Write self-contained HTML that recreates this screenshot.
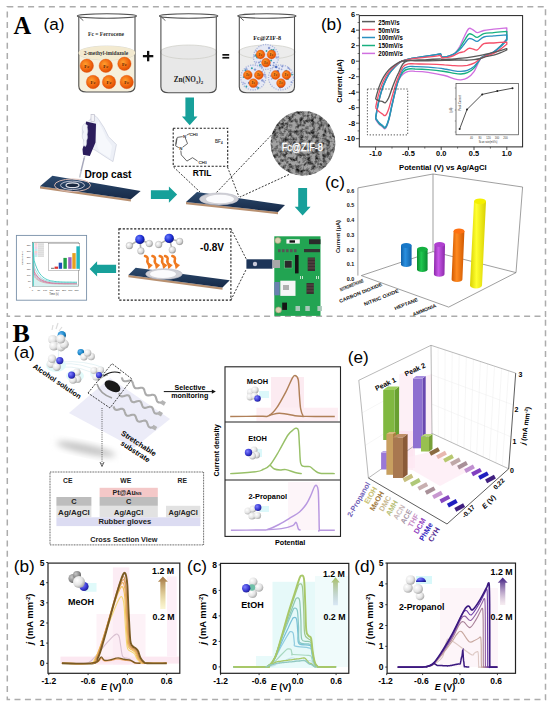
<!DOCTYPE html>
<html><head><meta charset="utf-8"><style>
html,body{margin:0;padding:0;background:#fff;width:550px;height:706px;overflow:hidden}
svg{display:block}

</style></head><body>
<svg width="550" height="706" viewBox="0 0 550 706" font-family="Liberation Sans">
<defs>
<radialGradient id="gOrange" cx="0.4" cy="0.38" r="0.7"><stop offset="0" stop-color="#ffa030"/><stop offset="0.55" stop-color="#f26a10"/><stop offset="1" stop-color="#d84400"/></radialGradient>
<linearGradient id="gElec" x1="0" y1="0" x2="0" y2="1"><stop offset="0" stop-color="#2c4a6e"/><stop offset="1" stop-color="#172a48"/></linearGradient>
<radialGradient id="gWhite" cx="0.35" cy="0.35" r="0.75"><stop offset="0" stop-color="#ffffff"/><stop offset="0.6" stop-color="#d8d8d8"/><stop offset="1" stop-color="#8a8a8a"/></radialGradient>
<radialGradient id="gBlue" cx="0.35" cy="0.35" r="0.75"><stop offset="0" stop-color="#6a7cff"/><stop offset="0.6" stop-color="#1a2ad0"/><stop offset="1" stop-color="#0a1070"/></radialGradient>
<radialGradient id="gDrop" cx="0.5" cy="0.5" r="0.5"><stop offset="0" stop-color="#ffffff"/><stop offset="0.7" stop-color="#f0f0f0"/><stop offset="1" stop-color="#b8b8c0"/></radialGradient>
<filter id="fNoise" x="0" y="0" width="1" height="1">
<feTurbulence type="fractalNoise" baseFrequency="0.26" numOctaves="3" seed="4" result="n"/>
<feColorMatrix in="n" type="matrix" values="0 0 0 0 0  0 0 0 0 0  0 0 0 0 0  1.9 0 0 0 -0.72" result="a"/>
<feComposite in="a" in2="SourceGraphic" operator="in"/>
</filter>
<clipPath id="cSem"><circle cx="303" cy="143.3" r="32.4"/></clipPath>
</defs>

<rect x="7.3" y="6.7" width="538.2" height="309.6" stroke="#acacac" stroke-width="1.5" stroke-dasharray="6 4.4" fill="none"/>
<path d="M7.3 322 L7.3 699.6 L545.5 699.6 L545.5 316.3" stroke="#acacac" stroke-width="1.5" stroke-dasharray="6 4.4" fill="none"/>
<text x="13.4" y="34" font-family="Liberation Serif" font-weight="bold" font-size="24.5">A</text>
<text x="12.6" y="342.4" font-family="Liberation Serif" font-weight="bold" font-size="26">B</text>
<text x="43.5" y="29.7" font-family="Liberation Sans" font-size="17.2">(a)</text>
<path d="M78.3 53 L78.3 87 Q78.3 92 85.3 92 L128.5 92 Q135.5 92 135.5 87 Z" fill="#f6f0dc"/>
<rect x="78.3" y="53" width="57.2" height="34" fill="#f6f0dc"/>
<ellipse cx="106.9" cy="53" rx="28.6" ry="7" fill="#f6f0dc" stroke="#c8c8c0" stroke-width="0.6"/>
<path d="M78.8 16.5 L78.8 86 Q78.8 92 86.3 92 L127.5 92 Q135 92 135 86 L135 16.5" fill="none" stroke="#505050" stroke-width="1.1"/>
<ellipse cx="106.9" cy="16" rx="29.6" ry="2.2" fill="none" stroke="#505050" stroke-width="1.1"/>
<path d="M79.3 16.5 q2 3 4 4" fill="none" stroke="#505050" stroke-width="0.9"/>
<ellipse cx="106.9" cy="53" rx="28.5" ry="7" fill="#f3ead0"/>
<text x="106" y="35.5" font-family="Liberation Serif" font-weight="bold" font-size="5.6" fill="#333" text-anchor="middle">Fc = Ferrocene</text>
<text x="106" y="55" font-family="Liberation Serif" font-weight="bold" font-size="5.4" fill="#333" text-anchor="middle">2-methyl-imidazole</text>
<circle cx="86.8" cy="65.8" r="6.7" fill="url(#gOrange)" stroke="#e05010" stroke-width="0.4"/><text x="86.8" y="67.8" font-family="Liberation Serif" font-weight="bold" font-size="4.7" fill="#5a1a00" text-anchor="middle">Fc</text>
<circle cx="105.8" cy="65.8" r="6.7" fill="url(#gOrange)" stroke="#e05010" stroke-width="0.4"/><text x="105.8" y="67.8" font-family="Liberation Serif" font-weight="bold" font-size="4.7" fill="#5a1a00" text-anchor="middle">Fc</text>
<circle cx="124.4" cy="63.8" r="6.7" fill="url(#gOrange)" stroke="#e05010" stroke-width="0.4"/><text x="124.4" y="65.8" font-family="Liberation Serif" font-weight="bold" font-size="4.7" fill="#5a1a00" text-anchor="middle">Fc</text>
<circle cx="93" cy="82" r="6.7" fill="url(#gOrange)" stroke="#e05010" stroke-width="0.4"/><text x="93" y="84" font-family="Liberation Serif" font-weight="bold" font-size="4.7" fill="#5a1a00" text-anchor="middle">Fc</text>
<circle cx="109" cy="82" r="6.7" fill="url(#gOrange)" stroke="#e05010" stroke-width="0.4"/><text x="109" y="84" font-family="Liberation Serif" font-weight="bold" font-size="4.7" fill="#5a1a00" text-anchor="middle">Fc</text>
<circle cx="126.7" cy="82" r="6.7" fill="url(#gOrange)" stroke="#e05010" stroke-width="0.4"/><text x="126.7" y="84" font-family="Liberation Serif" font-weight="bold" font-size="4.7" fill="#5a1a00" text-anchor="middle">Fc</text>
<rect x="142.9" y="55" width="10.4" height="2.3" fill="#111"/><rect x="147" y="50.9" width="2.3" height="10.4" fill="#111"/>
<path d="M160.4 52 L160.4 87.7 Q160.4 92.7 167.4 92.7 L209.8 92.7 Q216.8 92.7 216.8 87.7 Z" fill="#e8e8e8"/>
<rect x="160.4" y="52" width="56.4" height="35.7" fill="#e8e8e8"/>
<ellipse cx="188.6" cy="52" rx="28.2" ry="7" fill="#e8e8e8" stroke="#c8c8c0" stroke-width="0.6"/>
<path d="M160.9 16.5 L160.9 86.7 Q160.9 92.7 168.4 92.7 L208.8 92.7 Q216.3 92.7 216.3 86.7 L216.3 16.5" fill="none" stroke="#505050" stroke-width="1.1"/>
<ellipse cx="188.6" cy="16" rx="29.2" ry="2.2" fill="none" stroke="#505050" stroke-width="1.1"/>
<path d="M161.4 16.5 q2 3 4 4" fill="none" stroke="#505050" stroke-width="0.9"/>
<text x="188.5" y="82" font-family="Liberation Serif" font-weight="bold" font-size="7.2" fill="#222" text-anchor="middle">Zn(NO<tspan font-size="5" dy="1.5">3</tspan><tspan dy="-1.5">)</tspan><tspan font-size="5" dy="1.5">2</tspan></text>
<rect x="222.4" y="54" width="6.8" height="1.7" fill="#111"/><rect x="222.4" y="56.9" width="6.8" height="1.7" fill="#111"/>
<path d="M238.8 52 L238.8 87.7 Q238.8 92.7 245.8 92.7 L288 92.7 Q295 92.7 295 87.7 Z" fill="#ececec"/>
<rect x="238.8" y="52" width="56.2" height="35.7" fill="#ececec"/>
<ellipse cx="266.9" cy="52" rx="28.1" ry="7" fill="#ececec" stroke="#c8c8c0" stroke-width="0.6"/>
<path d="M239.3 16.5 L239.3 86.7 Q239.3 92.7 246.8 92.7 L287 92.7 Q294.5 92.7 294.5 86.7 L294.5 16.5" fill="none" stroke="#505050" stroke-width="1.1"/>
<ellipse cx="266.9" cy="16" rx="29.1" ry="2.2" fill="none" stroke="#505050" stroke-width="1.1"/>
<path d="M239.8 16.5 q2 3 4 4" fill="none" stroke="#505050" stroke-width="0.9"/>
<text x="267.2" y="40" font-family="Liberation Serif" font-weight="bold" font-size="6.2" fill="#222" text-anchor="middle">Fc@ZIF-8</text>
<circle cx="266" cy="57" r="12.5" fill="#e6e9f5" stroke="#a8b4dc" stroke-width="1.3" stroke-dasharray="1.2 1.2"/>
<circle cx="273.4" cy="65.3" r="0.9" fill="#8a9ad0"/>
<circle cx="257.3" cy="57.3" r="1.2" fill="#30a0a8"/>
<circle cx="271.1" cy="60.4" r="1" fill="#30a0a8"/>
<circle cx="266.5" cy="51" r="0.9" fill="#30a0a8"/>
<circle cx="269.1" cy="48" r="1.2" fill="#8a9ad0"/>
<circle cx="272" cy="58.2" r="0.7" fill="#9aa8d8"/>
<circle cx="273.4" cy="50.1" r="1.1" fill="#30a0a8"/>
<circle cx="255.6" cy="55.2" r="1" fill="#30a0a8"/>
<circle cx="260.3" cy="65.3" r="1.3" fill="#30a0a8"/>
<circle cx="273.6" cy="53.2" r="1.3" fill="#9aa8d8"/>
<circle cx="273.9" cy="62.7" r="0.8" fill="#5070c0"/>
<circle cx="260.9" cy="66" r="1.3" fill="#9aa8d8"/>
<circle cx="256.3" cy="62.2" r="0.9" fill="#b0b8e0"/>
<circle cx="256.4" cy="51.1" r="0.9" fill="#9aa8d8"/>
<circle cx="271.4" cy="49.9" r="0.9" fill="#30a0a8"/>
<circle cx="270.3" cy="65.2" r="0.8" fill="#5070c0"/>
<circle cx="262.6" cy="51.3" r="1" fill="#b0b8e0"/>
<circle cx="259" cy="62.6" r="1" fill="#8a9ad0"/>
<circle cx="262" cy="67.3" r="1.1" fill="#9aa8d8"/>
<circle cx="260.5" cy="61.4" r="0.8" fill="#9aa8d8"/>
<circle cx="273.2" cy="57.6" r="0.8" fill="#9aa8d8"/>
<circle cx="254.3" cy="56" r="0.9" fill="#9aa8d8"/>
<circle cx="274.4" cy="51.7" r="1.3" fill="#9aa8d8"/>
<circle cx="276.7" cy="57.4" r="1.2" fill="#9aa8d8"/>
<circle cx="256.7" cy="55.9" r="1.3" fill="#30a0a8"/>
<circle cx="257.9" cy="58" r="0.8" fill="#9aa8d8"/>
<circle cx="260.5" cy="54.5" r="4.4" fill="url(#gOrange)" stroke="#e05010" stroke-width="0.4"/><text x="260.5" y="55.8" font-family="Liberation Serif" font-weight="bold" font-size="3.1" fill="#5a1a00" text-anchor="middle">Fc</text>
<circle cx="271.5" cy="54.5" r="4.4" fill="url(#gOrange)" stroke="#e05010" stroke-width="0.4"/><text x="271.5" y="55.8" font-family="Liberation Serif" font-weight="bold" font-size="3.1" fill="#5a1a00" text-anchor="middle">Fc</text>
<circle cx="266" cy="62.6" r="4.4" fill="url(#gOrange)" stroke="#e05010" stroke-width="0.4"/><text x="266" y="63.9" font-family="Liberation Serif" font-weight="bold" font-size="3.1" fill="#5a1a00" text-anchor="middle">Fc</text>
<circle cx="253.3" cy="77.5" r="12.5" fill="#e6e9f5" stroke="#a8b4dc" stroke-width="1.3" stroke-dasharray="1.2 1.2"/>
<circle cx="264.5" cy="74.3" r="0.8" fill="#8a9ad0"/>
<circle cx="248.8" cy="82.9" r="0.9" fill="#5070c0"/>
<circle cx="254.8" cy="83.5" r="1.3" fill="#b0b8e0"/>
<circle cx="246.3" cy="69.2" r="1.3" fill="#9aa8d8"/>
<circle cx="245" cy="75.1" r="1.2" fill="#5070c0"/>
<circle cx="258.9" cy="71.6" r="1.2" fill="#5070c0"/>
<circle cx="243.3" cy="82.7" r="1" fill="#b0b8e0"/>
<circle cx="253.8" cy="83.6" r="0.8" fill="#5070c0"/>
<circle cx="245.2" cy="77" r="1.1" fill="#9aa8d8"/>
<circle cx="258" cy="87.8" r="1.1" fill="#30a0a8"/>
<circle cx="262.1" cy="71.6" r="0.9" fill="#9aa8d8"/>
<circle cx="265" cy="76.1" r="1.3" fill="#b0b8e0"/>
<circle cx="244.9" cy="83.6" r="0.8" fill="#9aa8d8"/>
<circle cx="251.7" cy="86.3" r="1.2" fill="#9aa8d8"/>
<circle cx="246.4" cy="86.5" r="0.9" fill="#30a0a8"/>
<circle cx="251.9" cy="68.3" r="1" fill="#30a0a8"/>
<circle cx="254.7" cy="85.3" r="1.2" fill="#b0b8e0"/>
<circle cx="245.4" cy="70.4" r="0.9" fill="#30a0a8"/>
<circle cx="263.2" cy="74.8" r="1" fill="#9aa8d8"/>
<circle cx="243.6" cy="77.1" r="0.9" fill="#30a0a8"/>
<circle cx="255.7" cy="86.3" r="1.2" fill="#9aa8d8"/>
<circle cx="255" cy="69.6" r="1.2" fill="#8a9ad0"/>
<circle cx="257.1" cy="87.3" r="1" fill="#8a9ad0"/>
<circle cx="262.4" cy="80.4" r="1.2" fill="#8a9ad0"/>
<circle cx="258.3" cy="83.2" r="1.3" fill="#b0b8e0"/>
<circle cx="263.9" cy="81.7" r="0.7" fill="#8a9ad0"/>
<circle cx="247.8" cy="75" r="4.4" fill="url(#gOrange)" stroke="#e05010" stroke-width="0.4"/><text x="247.8" y="76.3" font-family="Liberation Serif" font-weight="bold" font-size="3.1" fill="#5a1a00" text-anchor="middle">Fc</text>
<circle cx="258.8" cy="75" r="4.4" fill="url(#gOrange)" stroke="#e05010" stroke-width="0.4"/><text x="258.8" y="76.3" font-family="Liberation Serif" font-weight="bold" font-size="3.1" fill="#5a1a00" text-anchor="middle">Fc</text>
<circle cx="253.3" cy="83.1" r="4.4" fill="url(#gOrange)" stroke="#e05010" stroke-width="0.4"/><text x="253.3" y="84.4" font-family="Liberation Serif" font-weight="bold" font-size="3.1" fill="#5a1a00" text-anchor="middle">Fc</text>
<circle cx="281" cy="77.5" r="12.5" fill="#e6e9f5" stroke="#a8b4dc" stroke-width="1.3" stroke-dasharray="1.2 1.2"/>
<circle cx="281.7" cy="86.7" r="1.2" fill="#5070c0"/>
<circle cx="271.6" cy="79" r="0.7" fill="#9aa8d8"/>
<circle cx="284.9" cy="71.1" r="0.8" fill="#b0b8e0"/>
<circle cx="279.1" cy="68.5" r="1" fill="#9aa8d8"/>
<circle cx="276.6" cy="72.2" r="1.2" fill="#b0b8e0"/>
<circle cx="270.7" cy="76" r="0.8" fill="#8a9ad0"/>
<circle cx="287" cy="75.8" r="1.2" fill="#8a9ad0"/>
<circle cx="279.8" cy="87" r="1.1" fill="#30a0a8"/>
<circle cx="288.4" cy="73.5" r="1" fill="#9aa8d8"/>
<circle cx="291.4" cy="73.1" r="0.7" fill="#8a9ad0"/>
<circle cx="273.5" cy="77.7" r="1.2" fill="#30a0a8"/>
<circle cx="286.2" cy="70.8" r="1" fill="#30a0a8"/>
<circle cx="272.7" cy="75.7" r="1.2" fill="#b0b8e0"/>
<circle cx="276.2" cy="67" r="1.3" fill="#5070c0"/>
<circle cx="277.7" cy="71.4" r="1.3" fill="#5070c0"/>
<circle cx="288.8" cy="72.2" r="1.1" fill="#b0b8e0"/>
<circle cx="288.6" cy="76.9" r="0.7" fill="#8a9ad0"/>
<circle cx="288.3" cy="68" r="0.9" fill="#8a9ad0"/>
<circle cx="291.4" cy="82.1" r="0.9" fill="#8a9ad0"/>
<circle cx="282.3" cy="66.3" r="1.1" fill="#8a9ad0"/>
<circle cx="281.6" cy="69.3" r="0.9" fill="#9aa8d8"/>
<circle cx="289.7" cy="69.4" r="0.8" fill="#9aa8d8"/>
<circle cx="286.9" cy="78.9" r="1.1" fill="#8a9ad0"/>
<circle cx="288" cy="78.9" r="0.9" fill="#30a0a8"/>
<circle cx="280.1" cy="87.6" r="0.9" fill="#5070c0"/>
<circle cx="292" cy="74.6" r="0.9" fill="#30a0a8"/>
<circle cx="275.5" cy="75" r="4.4" fill="url(#gOrange)" stroke="#e05010" stroke-width="0.4"/><text x="275.5" y="76.3" font-family="Liberation Serif" font-weight="bold" font-size="3.1" fill="#5a1a00" text-anchor="middle">Fc</text>
<circle cx="286.5" cy="75" r="4.4" fill="url(#gOrange)" stroke="#e05010" stroke-width="0.4"/><text x="286.5" y="76.3" font-family="Liberation Serif" font-weight="bold" font-size="3.1" fill="#5a1a00" text-anchor="middle">Fc</text>
<circle cx="281" cy="83.1" r="4.4" fill="url(#gOrange)" stroke="#e05010" stroke-width="0.4"/><text x="281" y="84.4" font-family="Liberation Serif" font-weight="bold" font-size="3.1" fill="#5a1a00" text-anchor="middle">Fc</text>
<polygon points="185.4,97.6 194,97.6 194,116.5 197.5,116.5 189.7,125.2 181.9,116.5 185.4,116.5" fill="#17a09a"/>
<polygon points="150.9,190.2 168.9,190.2 168.9,186.4 177.1,194.6 168.9,202.8 168.9,199 150.9,199" fill="#17a09a"/>
<polygon points="298.2,187.9 307.1,187.9 307.1,206.8 310.6,206.8 302.6,215.4 294.7,206.8 298.2,206.8" fill="#17a09a"/>
<polygon points="89.6,268.9 97.1,261.2 97.1,264.8 116.1,264.8 116.1,273 97.1,273 97.1,276.6" fill="#17a09a"/>
<polygon points="40,186.2 130.9,199.3 130.9,201.5 40,188.4" fill="#b89070"/>
<polygon points="52.4,175.7 140.7,191.1 130.9,199.3 40,186.2" fill="url(#gElec)"/>
<ellipse cx="72.5" cy="185.3" rx="18" ry="6.3" fill="none" stroke="#d8b8b0" stroke-width="1"/>
<ellipse cx="72.5" cy="185.3" rx="12" ry="4.2" fill="none" stroke="#c8c8d8" stroke-width="0.9"/>
<ellipse cx="72.5" cy="185.3" rx="6.5" ry="2.4" fill="#1a2840" stroke="#e0e0e8" stroke-width="1.2"/>
<path d="M92 114.5 C95 115 97 117 99 120 L104 127.6 L108.5 136.7 L116.4 144.6 L113 161.6 L107.4 158.2 L95 150 C90 148 86 146 84 142 C82 136 82 130 83 127 C85 124 88 121 91 119 Z" fill="#edf0f7" stroke="#c4c8d6" stroke-width="0.6"/>
<path d="M98 121 C101 126 104 132 106 138 L112 146 L110 158 L100 152 C97 148 96 140 96 132 Z" fill="#f6f8fc"/>
<line x1="84.7" y1="156" x2="79.6" y2="177.5" stroke="#c4c6d0" stroke-width="1.5"/>
<line x1="84.2" y1="158" x2="81" y2="171" stroke="#8a8aa8" stroke-width="0.6"/>
<path d="M86 121.4 L96 123.7 L95.5 142.4 L89.8 156 L83 154.8 L82.5 149.2 C84 144 86.5 141 86 137 C84.5 133 87.5 129 85.5 126 Z" fill="#2b1d5c"/>
<rect x="91" y="114.5" width="3.3" height="7" fill="#f4f4f8" stroke="#b0b0c0" stroke-width="0.5"/>
<path d="M84.5 123.5 C81.5 126 81.5 130 84 132 C81.5 134 81.5 138 84 140 C82.5 143 83.5 146 85.5 146.5 C87.5 144 86 141 87 139.5 C88.5 137 86.5 135 87.5 133 C88.5 130 86.5 128 87.5 125.5 Z" fill="#f2f4fa" stroke="#c8ccd8" stroke-width="0.5"/>
<text x="108" y="177.6" font-family="Liberation Sans" font-weight="bold" font-size="10.2" text-anchor="middle">Drop cast</text>
<polygon points="186,202 278,212 278,214.2 186,204.2" fill="#b89070"/>
<polygon points="197,192 285,205 278,212 186,202" fill="url(#gElec)"/>
<ellipse cx="219" cy="199" rx="19.5" ry="6" fill="#d0d0d6" stroke="#b8b8c4" stroke-width="0.6"/>
<ellipse cx="220" cy="199" rx="14" ry="4.3" fill="#fbfbfd"/>
<rect x="173.2" y="128.2" width="54.5" height="38" fill="#fff" stroke="#222" stroke-width="1.1" stroke-dasharray="2.2 1.6"/>
<g stroke="#444" stroke-width="0.8" fill="none"><polygon points="184.7,136.3 187.5,143.6 180.7,148.7 175.6,145.9 177.3,137.4"/><line x1="176.5" y1="138.5" x2="175.8" y2="144.5"/><line x1="186" y1="135.5" x2="189.7" y2="133.5"/><polyline points="180.7,149.5 181.3,154.9 186.9,161.1 192.5,157.7 197.6,161.1"/></g>
<rect x="182.6" y="133.6" width="4" height="4.2" fill="#fff"/><rect x="178.8" y="146.4" width="4" height="4.2" fill="#fff"/>
<text x="184.6" y="137.6" font-family="Liberation Sans" font-size="4.4" font-weight="bold" fill="#333" text-anchor="middle">N</text>
<text x="180.8" y="150.4" font-family="Liberation Sans" font-size="4.4" font-weight="bold" fill="#333" text-anchor="middle">N</text>
<text x="189.6" y="135.6" font-family="Liberation Sans" font-size="4.4" fill="#333" stroke="#333" stroke-width="0.15">CH<tspan font-size="2.9" dy="0.8">3</tspan></text>
<text x="198.6" y="163.6" font-family="Liberation Sans" font-size="4.4" fill="#333" stroke="#333" stroke-width="0.15">CH<tspan font-size="2.9" dy="0.8">3</tspan></text>
<text x="215" y="143.4" font-family="Liberation Sans" font-size="4.6" fill="#444" stroke="#444" stroke-width="0.15">BF<tspan font-size="3" dy="0.8">4</tspan></text>
<text x="202" y="176.4" font-family="Liberation Sans" font-weight="bold" font-size="9.6" text-anchor="middle" textLength="18.7" lengthAdjust="spacingAndGlyphs">RTIL</text>
<g stroke="#222" stroke-width="0.9" stroke-dasharray="2 1.5"><line x1="173.5" y1="167" x2="200" y2="192"/><line x1="227.5" y1="167" x2="239" y2="197"/></g>
<circle cx="303" cy="143.3" r="32.4" fill="#a2a2a2"/>
<rect x="270" y="110" width="66" height="67" fill="#000" filter="url(#fNoise)" clip-path="url(#cSem)"/>
<text x="302.3" y="150.8" font-family="Liberation Sans" font-size="10.6" fill="#fff" text-anchor="middle" textLength="41.3" lengthAdjust="spacingAndGlyphs" stroke="#fff" stroke-width="0.35">Fc@ZIF-8</text>
<g stroke="#222" stroke-width="0.9" stroke-dasharray="2 1.5"><line x1="273.6" y1="132.7" x2="216" y2="193"/><line x1="289" y1="174.5" x2="240" y2="197"/></g>
<text x="320.9" y="30" font-family="Liberation Sans" font-size="17.2">(b)</text>
<text x="324.9" y="187.6" font-family="Liberation Sans" font-size="17.2">(c)</text>
<rect x="359.3" y="15.6" width="163.3" height="131.3" fill="none" stroke="#222" stroke-width="1"/>
<line x1="356" y1="14.7" x2="359.3" y2="14.7" stroke="#222" stroke-width="0.8"/>
<text x="355" y="17.3" font-family="Liberation Sans" font-weight="bold" font-size="7.4" text-anchor="end">6</text>
<line x1="356" y1="30.2" x2="359.3" y2="30.2" stroke="#222" stroke-width="0.8"/>
<text x="355" y="32.8" font-family="Liberation Sans" font-weight="bold" font-size="7.4" text-anchor="end">4</text>
<line x1="356" y1="45.7" x2="359.3" y2="45.7" stroke="#222" stroke-width="0.8"/>
<text x="355" y="48.3" font-family="Liberation Sans" font-weight="bold" font-size="7.4" text-anchor="end">2</text>
<line x1="356" y1="61.2" x2="359.3" y2="61.2" stroke="#222" stroke-width="0.8"/>
<text x="355" y="63.8" font-family="Liberation Sans" font-weight="bold" font-size="7.4" text-anchor="end">0</text>
<line x1="356" y1="76.7" x2="359.3" y2="76.7" stroke="#222" stroke-width="0.8"/>
<text x="355" y="79.3" font-family="Liberation Sans" font-weight="bold" font-size="7.4" text-anchor="end">-2</text>
<line x1="356" y1="92.2" x2="359.3" y2="92.2" stroke="#222" stroke-width="0.8"/>
<text x="355" y="94.8" font-family="Liberation Sans" font-weight="bold" font-size="7.4" text-anchor="end">-4</text>
<line x1="356" y1="107.7" x2="359.3" y2="107.7" stroke="#222" stroke-width="0.8"/>
<text x="355" y="110.3" font-family="Liberation Sans" font-weight="bold" font-size="7.4" text-anchor="end">-6</text>
<line x1="356" y1="123.2" x2="359.3" y2="123.2" stroke="#222" stroke-width="0.8"/>
<text x="355" y="125.8" font-family="Liberation Sans" font-weight="bold" font-size="7.4" text-anchor="end">-8</text>
<line x1="356" y1="138.7" x2="359.3" y2="138.7" stroke="#222" stroke-width="0.8"/>
<text x="355" y="141.3" font-family="Liberation Sans" font-weight="bold" font-size="7.4" text-anchor="end">-10</text>
<line x1="357.6" y1="22.5" x2="359.3" y2="22.5" stroke="#222" stroke-width="0.6"/>
<line x1="357.6" y1="38" x2="359.3" y2="38" stroke="#222" stroke-width="0.6"/>
<line x1="357.6" y1="53.5" x2="359.3" y2="53.5" stroke="#222" stroke-width="0.6"/>
<line x1="357.6" y1="69" x2="359.3" y2="69" stroke="#222" stroke-width="0.6"/>
<line x1="357.6" y1="84.5" x2="359.3" y2="84.5" stroke="#222" stroke-width="0.6"/>
<line x1="357.6" y1="100" x2="359.3" y2="100" stroke="#222" stroke-width="0.6"/>
<line x1="357.6" y1="115.5" x2="359.3" y2="115.5" stroke="#222" stroke-width="0.6"/>
<line x1="357.6" y1="130.9" x2="359.3" y2="130.9" stroke="#222" stroke-width="0.6"/>
<line x1="375.6" y1="146.9" x2="375.6" y2="150" stroke="#222" stroke-width="0.8"/>
<text x="375.6" y="156.4" font-family="Liberation Sans" font-weight="bold" font-size="7.4" text-anchor="middle">-1.0</text>
<line x1="408.4" y1="146.9" x2="408.4" y2="150" stroke="#222" stroke-width="0.8"/>
<text x="408.4" y="156.4" font-family="Liberation Sans" font-weight="bold" font-size="7.4" text-anchor="middle">-0.5</text>
<line x1="441.2" y1="146.9" x2="441.2" y2="150" stroke="#222" stroke-width="0.8"/>
<text x="441.2" y="156.4" font-family="Liberation Sans" font-weight="bold" font-size="7.4" text-anchor="middle">0.0</text>
<line x1="474" y1="146.9" x2="474" y2="150" stroke="#222" stroke-width="0.8"/>
<text x="474" y="156.4" font-family="Liberation Sans" font-weight="bold" font-size="7.4" text-anchor="middle">0.5</text>
<line x1="506.8" y1="146.9" x2="506.8" y2="150" stroke="#222" stroke-width="0.8"/>
<text x="506.8" y="156.4" font-family="Liberation Sans" font-weight="bold" font-size="7.4" text-anchor="middle">1.0</text>
<line x1="392" y1="146.9" x2="392" y2="148.6" stroke="#222" stroke-width="0.6"/>
<line x1="424.8" y1="146.9" x2="424.8" y2="148.6" stroke="#222" stroke-width="0.6"/>
<line x1="457.6" y1="146.9" x2="457.6" y2="148.6" stroke="#222" stroke-width="0.6"/>
<line x1="490.4" y1="146.9" x2="490.4" y2="148.6" stroke="#222" stroke-width="0.6"/>
<text x="442.9" y="169.8" font-family="Liberation Sans" font-weight="bold" font-size="7.7" text-anchor="middle">Potential (V) vs Ag/AgCl</text>
<text transform="translate(342.2,81) rotate(-90)" font-family="Liberation Sans" font-weight="bold" font-size="7.4" text-anchor="middle">Current (μA)</text>
<path d="M375.6 119.3 C375.9 117.4 376.8 111.6 377.6 107.7 C378.3 103.8 379.2 99.8 380.2 96.1 C381.2 92.4 382.1 89.2 383.5 85.6 C384.9 82 386.8 77.8 388.7 74.6 C390.7 71.4 393.1 68.7 395.3 66.4 C397.5 64.2 399.1 62.6 401.8 61.2 C404.6 59.8 407.9 59.1 411.7 58.3 C415.5 57.5 420 57.1 424.8 56.4 C429.6 55.7 437.9 54.3 440.5 53.8 L441.9 57.3 C442.8 57.2 445.7 57 447.8 56.4 C449.8 55.8 452.4 55.4 454.3 53.8 C456.3 52.2 457.9 49.6 459.6 46.8 C461.2 43.9 462.6 39.8 464.2 36.8 C465.7 33.8 467.3 29.8 468.8 28.6 C470.2 27.5 471.3 29 472.7 29.6 C474.1 30.3 475.4 32.4 477.3 32.6 C479.1 32.7 481.1 31.1 483.8 30.5 C486.6 30 489.9 29.7 493.7 29.2 C497.5 28.8 504.6 28.1 506.8 27.9 L506.8 38.7 C505.7 40 502.4 44 500.2 46.2 C498.1 48.3 496.1 50.2 493.7 51.7 C491.3 53.3 488 54.3 485.8 55.5 C483.6 56.6 482.5 55.8 480.6 58.5 C478.6 61.2 476.2 68.3 474 71.6 C471.8 74.8 469.6 76.6 467.4 77.9 C465.3 79.3 463.1 79.6 460.9 79.8 C458.7 80 457.1 79.6 454.3 78.9 C451.6 78.2 448.9 76.6 444.5 75.5 C440.1 74.4 433 73 428.1 72.3 C423.2 71.6 418.2 71.4 415 71.3 C411.7 71.1 410.4 70.8 408.4 71.3 C406.4 71.7 404.8 72.5 403.2 74 C401.5 75.5 399.9 77.2 398.6 80.1 C397.2 83 396.4 87.3 395.3 91.5 C394.2 95.8 393.1 100.9 392 105.7 C390.9 110.5 389.8 116.7 388.7 120.5 C387.6 124.4 386.5 127.6 385.4 128.6 C384.3 129.6 383.3 127.4 382.2 126.6 C381.1 125.8 380 125.2 378.9 124 C377.8 122.8 376.1 120.1 375.6 119.3" fill="none" stroke="#d070e0" stroke-width="1.35" stroke-linejoin="round"/>
<path d="M375.6 118.6 C375.9 116.6 376.8 110.9 377.6 107.1 C378.3 103.3 379.2 99.2 380.2 95.6 C381.2 92 382.1 88.8 383.5 85.3 C384.9 81.8 386.8 77.5 388.7 74.4 C390.7 71.2 393.1 68.6 395.3 66.4 C397.5 64.2 399.1 62.6 401.8 61.2 C404.6 59.8 407.9 59.1 411.7 58.3 C415.5 57.5 420 57.1 424.8 56.4 C429.6 55.7 437.9 54.3 440.5 53.8 L441.9 57.3 C442.8 57.2 445.7 57 447.8 56.4 C449.8 55.8 452.4 55.2 454.3 53.8 C456.3 52.5 457.9 50.6 459.6 48.4 C461.2 46.2 462.6 43.2 464.2 40.9 C465.7 38.5 467.3 35.1 468.8 34.1 C470.2 33.1 471.3 34.3 472.7 34.9 C474.1 35.4 475.4 37.5 477.3 37.3 C479.1 37.1 481.1 34.5 483.8 33.7 C486.6 33 489.9 33 493.7 32.6 C497.5 32.2 504.6 31.6 506.8 31.4 L506.8 39.5 C505.7 40.7 502.4 44.6 500.2 46.6 C498.1 48.7 496.1 50.5 493.7 52 C491.3 53.5 488 54.5 485.8 55.5 C483.6 56.6 482.5 56.4 480.6 58.5 C478.6 60.6 476.2 65.7 474 68.1 C471.8 70.5 469.6 71.7 467.4 72.7 C465.3 73.7 463.1 73.9 460.9 74 C458.7 74.1 457.1 73.8 454.3 73.3 C451.6 72.9 448.9 72.1 444.5 71.5 C440.1 70.9 433 70.1 428.1 69.7 C423.2 69.3 418.2 69.1 415 69 C411.7 68.8 410.4 68.5 408.4 69 C406.4 69.4 404.8 69.8 403.2 71.7 C401.5 73.5 399.9 76.6 398.6 79.9 C397.2 83.1 396.4 87 395.3 91.2 C394.2 95.4 393.1 100.4 392 105.2 C390.9 110 389.8 116.1 388.7 119.9 C387.6 123.6 386.5 126.9 385.4 127.8 C384.3 128.8 383.3 126.6 382.2 125.9 C381.1 125.1 380 124.4 378.9 123.2 C377.8 122 376.1 119.3 375.6 118.6" fill="none" stroke="#18b080" stroke-width="1.35" stroke-linejoin="round"/>
<path d="M375.6 117.8 C375.9 115.9 376.8 110.2 377.6 106.5 C378.3 102.7 379.2 98.7 380.2 95.1 C381.2 91.6 382.1 88.5 383.5 85 C384.9 81.5 386.8 77.3 388.7 74.2 C390.7 71.1 393.1 68.5 395.3 66.3 C397.5 64.1 399.1 62.5 401.8 61.2 C404.6 59.9 407.9 59.1 411.7 58.3 C415.5 57.5 420 57.1 424.8 56.4 C429.6 55.7 437.9 54.3 440.5 53.8 L441.9 57.3 C442.8 57.2 445.7 57 447.8 56.4 C449.8 55.8 452.4 54.9 454.3 53.8 C456.3 52.7 457.9 51.4 459.6 49.8 C461.2 48.2 462.6 46.2 464.2 44.3 C465.7 42.5 467.3 39.5 468.8 38.7 C470.2 37.9 471.3 38.9 472.7 39.4 C474.1 39.8 475.4 41.8 477.3 41.4 C479.1 41 481.1 37.9 483.8 37 C486.6 36 489.9 36.3 493.7 35.9 C497.5 35.6 504.6 35 506.8 34.9 L506.8 40.3 C505.7 41.4 502.4 45.1 500.2 47.1 C498.1 49.1 496.1 50.8 493.7 52.2 C491.3 53.6 488 54.6 485.8 55.6 C483.6 56.7 482.5 56.7 480.6 58.5 C478.6 60.3 476.2 64.5 474 66.5 C471.8 68.4 469.6 69.5 467.4 70.3 C465.3 71.1 463.1 71.2 460.9 71.3 C458.7 71.4 457.1 71.2 454.3 70.8 C451.6 70.4 448.9 69.6 444.5 69 C440.1 68.3 433 67.6 428.1 67.2 C423.2 66.8 418.2 66.7 415 66.6 C411.7 66.5 410.4 66.2 408.4 66.6 C406.4 67.1 404.8 67.2 403.2 69.3 C401.5 71.5 399.9 76.1 398.6 79.6 C397.2 83.2 396.4 86.7 395.3 90.8 C394.2 95 393.1 100 392 104.7 C390.9 109.4 389.8 115.4 388.7 119.2 C387.6 122.9 386.5 126.1 385.4 127.1 C384.3 128.1 383.3 125.9 382.2 125.1 C381.1 124.3 380 123.6 378.9 122.4 C377.8 121.2 376.1 118.6 375.6 117.8" fill="none" stroke="#2a90c0" stroke-width="1.35" stroke-linejoin="round"/>
<path d="M375.6 107.7 C375.9 106.2 376.8 101.5 377.6 98.4 C378.3 95.3 379.2 92 380.2 89.1 C381.2 86.2 382.1 83.6 383.5 80.7 C384.9 77.9 386.8 74.5 388.7 71.9 C390.7 69.3 393.1 67.2 395.3 65.4 C397.5 63.6 399.1 62.3 401.8 61.2 C404.6 60.1 407.9 59.5 411.7 58.8 C415.5 58.2 420 57.9 424.8 57.4 C429.6 56.8 437.9 55.7 440.5 55.3 L441.9 58.1 C442.8 58 445.7 57.8 447.8 57.4 C449.8 56.9 452.4 56.1 454.3 55.3 C456.3 54.5 457.9 53.3 459.6 52.7 C461.2 52.1 462.6 52.3 464.2 51.6 C465.7 50.9 467.3 48.9 468.8 48.4 C470.2 47.9 471.3 48.5 472.7 48.8 C474.1 49.1 475.4 50.8 477.3 49.9 C479.1 49.1 481.1 44.9 483.8 43.7 C486.6 42.6 489.9 43.2 493.7 43 C497.5 42.7 504.6 42.3 506.8 42.2 L506.8 44.2 C505.7 45 502.4 47.9 500.2 49.4 C498.1 51 496.1 52.3 493.7 53.4 C491.3 54.5 488 55.2 485.8 56 C483.6 56.9 482.5 57.3 480.6 58.5 C478.6 59.7 476.2 62.1 474 63.2 C471.8 64.4 469.6 64.9 467.4 65.4 C465.3 65.8 463.1 65.8 460.9 65.9 C458.7 65.9 457.1 65.8 454.3 65.6 C451.6 65.5 448.9 65.1 444.5 64.9 C440.1 64.6 433 64.3 428.1 64.2 C423.2 64 418.2 64 415 63.9 C411.7 63.9 410.4 63.5 408.4 63.9 C406.4 64.4 404.8 64.5 403.2 66.6 C401.5 68.7 399.9 73.2 398.6 76.4 C397.2 79.6 396.4 82.2 395.3 85.6 C394.2 89 393.1 93.1 392 97 C390.9 100.9 389.8 105.9 388.7 108.9 C387.6 112 386.5 114.6 385.4 115.5 C384.3 116.3 383.3 114.5 382.2 113.8 C381.1 113.2 380 112.6 378.9 111.6 C377.8 110.6 376.1 108.3 375.6 107.7" fill="none" stroke="#f4506a" stroke-width="1.35" stroke-linejoin="round"/>
<path d="M375.6 99.2 C375.9 97.9 376.8 94.1 377.6 91.6 C378.3 89 379.2 86.4 380.2 84 C381.2 81.6 382.1 79.5 383.5 77.1 C384.9 74.8 386.8 72 388.7 69.9 C390.7 67.8 393.1 66.1 395.3 64.6 C397.5 63.2 399.1 61.9 401.8 61.2 C404.6 60.5 407.9 60.6 411.7 60.3 C415.5 60.1 420 60 424.8 59.8 C429.6 59.5 437.9 59.1 440.5 59 L441.9 59.7 C443.9 59.5 450.1 59.2 454.3 58.9 C458.6 58.6 463.1 58.3 467.4 57.7 C471.8 57.1 476.2 56.3 480.6 55.4 C484.9 54.5 489.3 53.4 493.7 52.3 C498.1 51.2 504.6 49.2 506.8 48.6 L506.8 50 C505.7 50.5 502.4 52 500.2 52.9 C498.1 53.8 496.1 54.5 493.7 55.1 C491.3 55.7 488 56 485.8 56.6 C483.6 57.2 482.5 58 480.6 58.5 C478.6 59 476.2 59.4 474 59.7 C471.8 60 469.6 60.1 467.4 60.2 C465.3 60.2 463.1 60 460.9 60 C458.7 60 457.1 60 454.3 60.1 C451.6 60.2 448.9 60.3 444.5 60.4 C440.1 60.5 433 60.7 428.1 60.8 C423.2 60.8 418.2 60.8 415 60.8 C411.7 60.8 410.4 60.4 408.4 60.8 C406.4 61.3 404.8 61.5 403.2 63.5 C401.5 65.5 399.9 70.1 398.6 72.8 C397.2 75.5 396.4 77.2 395.3 79.9 C394.2 82.5 393.1 85.6 392 88.6 C390.9 91.5 389.8 95.3 388.7 97.7 C387.6 100 386.5 102 385.4 102.7 C384.3 103.3 383.3 101.7 382.2 101.4 C381.1 101.1 380 101.3 378.9 100.9 C377.8 100.5 376.1 99.5 375.6 99.2" fill="none" stroke="#5a5a5a" stroke-width="1.35" stroke-linejoin="round"/>
<line x1="362" y1="21.6" x2="375" y2="21.6" stroke="#5a5a5a" stroke-width="1.5"/>
<text x="378.3" y="24.5" font-family="Liberation Sans" font-weight="bold" font-size="6.6" textLength="21.3" lengthAdjust="spacingAndGlyphs">25mV/s</text>
<line x1="362" y1="29.6" x2="375" y2="29.6" stroke="#f4506a" stroke-width="1.5"/>
<text x="378.3" y="32.5" font-family="Liberation Sans" font-weight="bold" font-size="6.6" textLength="21.3" lengthAdjust="spacingAndGlyphs">50mV/s</text>
<line x1="362" y1="37.5" x2="375" y2="37.5" stroke="#2a90c0" stroke-width="1.5"/>
<text x="378.3" y="40.4" font-family="Liberation Sans" font-weight="bold" font-size="6.6" textLength="24.6" lengthAdjust="spacingAndGlyphs">100mV/s</text>
<line x1="362" y1="45.5" x2="375" y2="45.5" stroke="#18b080" stroke-width="1.5"/>
<text x="378.3" y="48.4" font-family="Liberation Sans" font-weight="bold" font-size="6.6" textLength="24.6" lengthAdjust="spacingAndGlyphs">150mV/s</text>
<line x1="362" y1="53.4" x2="375" y2="53.4" stroke="#d070e0" stroke-width="1.5"/>
<text x="378.3" y="56.3" font-family="Liberation Sans" font-weight="bold" font-size="6.6" textLength="24.6" lengthAdjust="spacingAndGlyphs">200mV/s</text>
<rect x="367.4" y="89" width="40.3" height="45.9" fill="none" stroke="#333" stroke-width="0.9" stroke-dasharray="1.2 1.8"/>
<rect x="456" y="83.6" width="62.6" height="51.2" fill="#fff" stroke="#444" stroke-width="0.7"/>
<polyline points="459.6,129.1 467,109.5 482.2,94.4 497.3,91.1 512.5,88.2" fill="none" stroke="#222" stroke-width="0.8"/>
<circle cx="459.6" cy="129.1" r="1" fill="#222"/>
<circle cx="467" cy="109.5" r="1" fill="#222"/>
<circle cx="482.2" cy="94.4" r="1" fill="#222"/>
<circle cx="497.3" cy="91.1" r="1" fill="#222"/>
<circle cx="512.5" cy="88.2" r="1" fill="#222"/>
<line x1="454.8" y1="88" x2="456" y2="88" stroke="#444" stroke-width="0.5"/>
<line x1="454.8" y1="99" x2="456" y2="99" stroke="#444" stroke-width="0.5"/>
<line x1="454.8" y1="110" x2="456" y2="110" stroke="#444" stroke-width="0.5"/>
<line x1="454.8" y1="121" x2="456" y2="121" stroke="#444" stroke-width="0.5"/>
<line x1="454.8" y1="132" x2="456" y2="132" stroke="#444" stroke-width="0.5"/>
<text x="471.5" y="139.2" font-family="Liberation Sans" font-size="2.6" text-anchor="middle" fill="#333">40</text>
<text x="480" y="139.2" font-family="Liberation Sans" font-size="2.6" text-anchor="middle" fill="#333">80</text>
<text x="488.5" y="139.2" font-family="Liberation Sans" font-size="2.6" text-anchor="middle" fill="#333">120</text>
<text x="497" y="139.2" font-family="Liberation Sans" font-size="2.6" text-anchor="middle" fill="#333">160</text>
<text x="505.5" y="139.2" font-family="Liberation Sans" font-size="2.6" text-anchor="middle" fill="#333">200</text>
<text x="488" y="143" font-family="Liberation Sans" font-size="2.6" text-anchor="middle" fill="#333">Scan rate(mV/s)</text>
<text transform="translate(461.2,103) rotate(-90)" font-family="Liberation Sans" font-size="2.6" text-anchor="middle" fill="#333">Peak Current</text>
<text transform="translate(451.5,110) rotate(-90)" font-family="Liberation Sans" font-size="2.6" text-anchor="middle" fill="#333">(μA)</text>
<g stroke="#777" stroke-width="0.7" fill="none">
<polyline points="357.9,187.9 433,174 522.6,187 516,272.6 448.7,307.1 361.3,275.6 433,251.6 516,272.6"/>
<line x1="357.9" y1="187.9" x2="357.9" y2="275.6"/><line x1="433" y1="174" x2="433" y2="251.6"/>
</g>
<text x="354.2" y="192.6" font-family="Liberation Sans" font-weight="bold" font-size="5.4" text-anchor="end" fill="#111">0.6</text>
<text x="354.2" y="207.3" font-family="Liberation Sans" font-weight="bold" font-size="5.4" text-anchor="end" fill="#111">0.5</text>
<text x="354.2" y="222" font-family="Liberation Sans" font-weight="bold" font-size="5.4" text-anchor="end" fill="#111">0.4</text>
<text x="354.2" y="236.8" font-family="Liberation Sans" font-weight="bold" font-size="5.4" text-anchor="end" fill="#111">0.3</text>
<text x="354.2" y="251.5" font-family="Liberation Sans" font-weight="bold" font-size="5.4" text-anchor="end" fill="#111">0.2</text>
<text x="354.2" y="266.2" font-family="Liberation Sans" font-weight="bold" font-size="5.4" text-anchor="end" fill="#111">0.1</text>
<text x="354.2" y="280.9" font-family="Liberation Sans" font-weight="bold" font-size="5.4" text-anchor="end" fill="#111">0.0</text>
<text transform="translate(339.5,236.5) rotate(-90)" font-family="Liberation Sans" font-weight="bold" font-size="5.6" text-anchor="middle" fill="#111">Current (μA)</text>
<text transform="translate(352.4,286.7) rotate(-22)" font-family="Liberation Sans" font-weight="bold" font-size="5" text-anchor="middle" fill="#111" textLength="25" lengthAdjust="spacingAndGlyphs">NITROMETHANE</text>
<text transform="translate(361.3,294.4) rotate(-22)" font-family="Liberation Sans" font-weight="bold" font-size="5" text-anchor="middle" fill="#111" textLength="46" lengthAdjust="spacingAndGlyphs">CARBON DIOXIDE</text>
<text transform="translate(381.9,299.1) rotate(-22)" font-family="Liberation Sans" font-weight="bold" font-size="5" text-anchor="middle" fill="#111" textLength="37" lengthAdjust="spacingAndGlyphs">NITRIC OXIDE</text>
<text transform="translate(406.8,305.6) rotate(-22)" font-family="Liberation Sans" font-weight="bold" font-size="5" text-anchor="middle" fill="#111" textLength="25" lengthAdjust="spacingAndGlyphs">HEPTANE</text>
<text transform="translate(425.1,311.6) rotate(-22)" font-family="Liberation Sans" font-weight="bold" font-size="5" text-anchor="middle" fill="#111" textLength="25" lengthAdjust="spacingAndGlyphs">AMMONIA</text>
<linearGradient id="cy1" x1="0" y1="0" x2="1" y2="0"><stop offset="0" stop-color="#1060a8"/><stop offset="0.4" stop-color="#2a90e0"/><stop offset="1" stop-color="#1060a8"/></linearGradient><path d="M401 245.5 L401 264.5 A5.3 2.5 0 0 0 411.6 264.5 L411.6 245.5 Z" fill="url(#cy1)"/><ellipse cx="406.3" cy="245.5" rx="5.3" ry="2.5" fill="#1878c8"/>
<linearGradient id="cy2" x1="0" y1="0" x2="1" y2="0"><stop offset="0" stop-color="#0a8a30"/><stop offset="0.4" stop-color="#20c850"/><stop offset="1" stop-color="#0a8a30"/></linearGradient><path d="M417 249.3 L417 269.5 A5.3 2.5 0 0 0 427.6 269.5 L427.6 249.3 Z" fill="url(#cy2)"/><ellipse cx="422.3" cy="249.3" rx="5.3" ry="2.5" fill="#14b040"/>
<linearGradient id="cy3" x1="0" y1="0" x2="1" y2="0"><stop offset="0" stop-color="#8a28a8"/><stop offset="0.4" stop-color="#c858e8"/><stop offset="1" stop-color="#8a28a8"/></linearGradient><path d="M434.4 244.6 L433.9 274.2 A5.3 2.5 0 0 0 444.5 274.2 L445 244.6 Z" fill="url(#cy3)"/><ellipse cx="439.7" cy="244.6" rx="5.3" ry="2.5" fill="#b040d0"/>
<linearGradient id="cy4" x1="0" y1="0" x2="1" y2="0"><stop offset="0" stop-color="#d05800"/><stop offset="0.4" stop-color="#ff8a20"/><stop offset="1" stop-color="#d05800"/></linearGradient><path d="M453.6 231.2 L451.6 279.5 A5.4 2.6 0 0 0 462.4 279.5 L464.4 231.2 Z" fill="url(#cy4)"/><ellipse cx="459" cy="231.2" rx="5.4" ry="2.6" fill="#ff7010"/>
<linearGradient id="cy5" x1="0" y1="0" x2="1" y2="0"><stop offset="0" stop-color="#d8d000"/><stop offset="0.4" stop-color="#ffff30"/><stop offset="1" stop-color="#d8d000"/></linearGradient><path d="M474 201.3 L470 285.5 A6 2.9 0 0 0 482 285.5 L486 201.3 Z" fill="url(#cy5)"/><ellipse cx="480" cy="201.3" rx="6" ry="2.9" fill="#f4f000"/>
<rect x="16.4" y="235.4" width="70.2" height="64.8" fill="#fff" stroke="#7890a8" stroke-width="0.9"/>
<rect x="32.7" y="242.2" width="45.7" height="44.4" fill="none" stroke="#666" stroke-width="0.5"/>
<path d="M33.5 243 L34 268 C36 276 42 280 52 282 L78 284 L78 286.4 L33.5 286.4 Z" fill="#cdeeed" opacity="0.8"/>
<polyline points="33.2,256 34,276.3 35.5,278 37,279.3 38.4,280.3 39.9,281.1 41.4,281.7 42.9,282.2 44.4,282.6 45.9,282.9 47.3,283.1 48.8,283.3 50.3,283.5 51.8,283.6 53.3,283.7 54.8,283.8 56.2,283.8 57.7,283.9 59.2,283.9 60.7,283.9 62.2,283.9 63.7,284 65.1,284 66.6,284 68.1,284 69.6,284 71.1,284 72.6,284 74,284 75.5,284 77,284" fill="none" stroke="#e0a0a0" stroke-width="0.9"/>
<polyline points="33.2,254 34,273.8 35.5,276 37,277.6 38.4,278.9 39.9,280 41.4,280.8 42.9,281.4 44.4,281.9 45.9,282.3 47.3,282.6 48.8,282.9 50.3,283 51.8,283.2 53.3,283.3 54.8,283.4 56.2,283.5 57.7,283.5 59.2,283.6 60.7,283.6 62.2,283.6 63.7,283.7 65.1,283.7 66.6,283.7 68.1,283.7 69.6,283.7 71.1,283.7 72.6,283.7 74,283.7 75.5,283.7 77,283.7" fill="none" stroke="#c090c0" stroke-width="0.9"/>
<polyline points="33.2,252 34,271.4 35.5,274 37,276 38.4,277.6 39.9,278.9 41.4,279.8 42.9,280.6 44.4,281.2 45.9,281.7 47.3,282.1 48.8,282.4 50.3,282.6 51.8,282.8 53.3,282.9 54.8,283 56.2,283.1 57.7,283.2 59.2,283.3 60.7,283.3 62.2,283.3 63.7,283.4 65.1,283.4 66.6,283.4 68.1,283.4 69.6,283.4 71.1,283.4 72.6,283.4 74,283.4 75.5,283.4 77,283.4" fill="none" stroke="#e07090" stroke-width="0.9"/>
<polyline points="33.2,248 34,266.4 35.5,269.9 37,272.7 38.4,274.9 39.9,276.6 41.4,278 42.9,279 44.4,279.9 45.9,280.5 47.3,281 48.8,281.4 50.3,281.7 51.8,282 53.3,282.2 54.8,282.3 56.2,282.5 57.7,282.6 59.2,282.6 60.7,282.7 62.2,282.7 63.7,282.8 65.1,282.8 66.6,282.8 68.1,282.8 69.6,282.8 71.1,282.9 72.6,282.9 74,282.9 75.5,282.9 77,282.9" fill="none" stroke="#9ad8e0" stroke-width="0.9"/>
<polyline points="33.2,243 34,260.2 35.5,264.9 37,268.6 38.4,271.5 39.9,273.8 41.4,275.6 42.9,277 44.4,278.1 45.9,279 47.3,279.7 48.8,280.2 50.3,280.7 51.8,281 53.3,281.2 54.8,281.5 56.2,281.6 57.7,281.7 59.2,281.8 60.7,281.9 62.2,282 63.7,282 65.1,282.1 66.6,282.1 68.1,282.1 69.6,282.1 71.1,282.1 72.6,282.2 74,282.2 75.5,282.2 77,282.2" fill="none" stroke="#40c8c0" stroke-width="0.9"/>
<line x1="33.3" y1="242.5" x2="33.3" y2="286" stroke="#40c8c0" stroke-width="1"/>
<rect x="48.4" y="243.6" width="31.4" height="26.6" fill="#fff" stroke="#777" stroke-width="0.4"/>
<rect x="51" y="267.8" width="3.4" height="1" fill="#707070"/>
<rect x="54.6" y="266.6" width="3.4" height="2.2" fill="#e03030"/>
<rect x="58.7" y="262.7" width="3.4" height="6.1" fill="#2050b8"/>
<rect x="63.4" y="257.9" width="3.4" height="10.9" fill="#20a048"/>
<rect x="68.2" y="257.2" width="3.4" height="11.6" fill="#a060c0"/>
<rect x="72.3" y="253.1" width="3.4" height="15.7" fill="#e8a020"/>
<rect x="76.4" y="246.3" width="3.4" height="22.5" fill="#20b8c0"/>
<line x1="34.5" y1="244" x2="37.5" y2="244" stroke="#e07070" stroke-width="0.6"/>
<rect x="38" y="243.6" width="6" height="0.9" fill="#bbb"/>
<line x1="34.5" y1="246" x2="37.5" y2="246" stroke="#e080a0" stroke-width="0.6"/>
<rect x="38" y="245.6" width="6" height="0.9" fill="#bbb"/>
<line x1="34.5" y1="248" x2="37.5" y2="248" stroke="#c070c0" stroke-width="0.6"/>
<rect x="38" y="247.6" width="6" height="0.9" fill="#bbb"/>
<line x1="34.5" y1="250" x2="37.5" y2="250" stroke="#40c0c0" stroke-width="0.6"/>
<rect x="38" y="249.6" width="6" height="0.9" fill="#bbb"/>
<line x1="34.5" y1="252" x2="37.5" y2="252" stroke="#e06060" stroke-width="0.6"/>
<rect x="38" y="251.6" width="6" height="0.9" fill="#bbb"/>
<line x1="34.5" y1="254" x2="37.5" y2="254" stroke="#9070c0" stroke-width="0.6"/>
<rect x="38" y="253.6" width="6" height="0.9" fill="#bbb"/>
<line x1="34.5" y1="256" x2="37.5" y2="256" stroke="#40c8c0" stroke-width="0.6"/>
<rect x="38" y="255.6" width="6" height="0.9" fill="#bbb"/>
<text x="23" y="265" font-family="Liberation Sans" font-size="2.5" fill="#333" transform="rotate(-90 23 265)">Current (μA)</text>
<text x="32.5" y="290.8" font-family="Liberation Sans" font-size="2.4" fill="#333" text-anchor="middle">0</text>
<text x="38.8" y="290.8" font-family="Liberation Sans" font-size="2.4" fill="#333" text-anchor="middle">50</text>
<text x="45.1" y="290.8" font-family="Liberation Sans" font-size="2.4" fill="#333" text-anchor="middle">100</text>
<text x="51.4" y="290.8" font-family="Liberation Sans" font-size="2.4" fill="#333" text-anchor="middle">150</text>
<text x="57.7" y="290.8" font-family="Liberation Sans" font-size="2.4" fill="#333" text-anchor="middle">200</text>
<text x="64" y="290.8" font-family="Liberation Sans" font-size="2.4" fill="#333" text-anchor="middle">250</text>
<text x="70.3" y="290.8" font-family="Liberation Sans" font-size="2.4" fill="#333" text-anchor="middle">300</text>
<text x="76.6" y="290.8" font-family="Liberation Sans" font-size="2.4" fill="#333" text-anchor="middle">350</text>
<text x="54" y="295" font-family="Liberation Sans" font-size="2.6" fill="#333" text-anchor="middle">Time (s)</text>
<text x="30.5" y="287.5" font-family="Liberation Sans" font-size="2.3" fill="#333" text-anchor="end">0</text>
<text x="30.5" y="281.5" font-family="Liberation Sans" font-size="2.3" fill="#333" text-anchor="end">50</text>
<text x="30.5" y="275.5" font-family="Liberation Sans" font-size="2.3" fill="#333" text-anchor="end">100</text>
<text x="30.5" y="269.5" font-family="Liberation Sans" font-size="2.3" fill="#333" text-anchor="end">150</text>
<text x="30.5" y="263.5" font-family="Liberation Sans" font-size="2.3" fill="#333" text-anchor="end">200</text>
<text x="30.5" y="257.5" font-family="Liberation Sans" font-size="2.3" fill="#333" text-anchor="end">250</text>
<text x="30.5" y="251.5" font-family="Liberation Sans" font-size="2.3" fill="#333" text-anchor="end">300</text>
<text x="30.5" y="245.5" font-family="Liberation Sans" font-size="2.3" fill="#333" text-anchor="end">350</text>
<rect x="118.9" y="228.9" width="112" height="71.2" fill="none" stroke="#222" stroke-width="1.1" stroke-dasharray="2.2 1.6"/>
<g stroke="#222" stroke-width="0.9" stroke-dasharray="2 1.5"><line x1="230.9" y1="228.9" x2="246.4" y2="259.3"/><line x1="230.9" y1="300.1" x2="246.4" y2="269"/></g>
<line x1="139.9" y1="239.4" x2="129.4" y2="245.7" stroke="#b0b0b0" stroke-width="1.6"/><line x1="139.9" y1="239.4" x2="149.3" y2="243.6" stroke="#b0b0b0" stroke-width="1.6"/><line x1="139.9" y1="239.4" x2="140.9" y2="250.9" stroke="#b0b0b0" stroke-width="1.6"/><circle cx="129.4" cy="245.7" r="3.4" fill="url(#gWhite)" stroke="#9a9a9a" stroke-width="0.3"/><circle cx="149.3" cy="243.6" r="3.4" fill="url(#gWhite)" stroke="#9a9a9a" stroke-width="0.3"/><circle cx="140.9" cy="250.9" r="3.4" fill="url(#gWhite)" stroke="#9a9a9a" stroke-width="0.3"/><circle cx="139.9" cy="239.4" r="4.7" fill="url(#gBlue)"/>
<line x1="169.2" y1="238.4" x2="158.7" y2="244.6" stroke="#b0b0b0" stroke-width="1.6"/><line x1="169.2" y1="238.4" x2="179.6" y2="241.5" stroke="#b0b0b0" stroke-width="1.6"/><line x1="169.2" y1="238.4" x2="172.3" y2="249.9" stroke="#b0b0b0" stroke-width="1.6"/><circle cx="158.7" cy="244.6" r="3.4" fill="url(#gWhite)" stroke="#9a9a9a" stroke-width="0.3"/><circle cx="179.6" cy="241.5" r="3.4" fill="url(#gWhite)" stroke="#9a9a9a" stroke-width="0.3"/><circle cx="172.3" cy="249.9" r="3.4" fill="url(#gWhite)" stroke="#9a9a9a" stroke-width="0.3"/><circle cx="169.2" cy="238.4" r="4.7" fill="url(#gBlue)"/>
<text x="212" y="250.9" font-family="Liberation Sans" font-weight="bold" font-size="10" text-anchor="middle">-0.8V</text>
<path d="M145 256 q3.5 1 2.5 4 q-1 3 2.5 5" fill="none" stroke="#f07a20" stroke-width="2.5" stroke-linecap="round"/>
<path d="M147.3 263 l1.2 6.3 l4.4 -4.2 z" fill="#f07a20"/>
<path d="M152.4 256 q3.5 1 2.5 4 q-1 3 2.5 5" fill="none" stroke="#f07a20" stroke-width="2.5" stroke-linecap="round"/>
<path d="M154.7 263 l1.2 6.3 l4.4 -4.2 z" fill="#f07a20"/>
<path d="M159.7 256 q3.5 1 2.5 4 q-1 3 2.5 5" fill="none" stroke="#f07a20" stroke-width="2.5" stroke-linecap="round"/>
<path d="M162 263 l1.2 6.3 l4.4 -4.2 z" fill="#f07a20"/>
<path d="M165 256 q3.5 1 2.5 4 q-1 3 2.5 5" fill="none" stroke="#f07a20" stroke-width="2.5" stroke-linecap="round"/>
<path d="M167.2 263 l1.2 6.3 l4.4 -4.2 z" fill="#f07a20"/>
<path d="M172.3 256 q3.5 1 2.5 4 q-1 3 2.5 5" fill="none" stroke="#f07a20" stroke-width="2.5" stroke-linecap="round"/>
<path d="M174.5 263 l1.2 6.3 l4.4 -4.2 z" fill="#f07a20"/>
<polygon points="128.4,275 222.5,287.5 222.5,289.7 128.4,277.2" fill="#b89070"/>
<polygon points="135.7,267.7 229.8,280.2 222.5,287.5 128.4,275" fill="url(#gElec)"/>
<ellipse cx="164" cy="274" rx="18.3" ry="5.3" fill="#d0d0d6" stroke="#b8b8c4" stroke-width="0.6"/>
<ellipse cx="163" cy="274" rx="13" ry="4" fill="#fbfbfd"/>
<rect x="274.3" y="236.3" width="46.2" height="79.6" fill="#22a452"/>
<circle cx="277.9" cy="240.5" r="3" fill="#d8d0b0" stroke="#a09870" stroke-width="0.6"/>
<circle cx="278.5" cy="309.9" r="3" fill="#d8d0b0" stroke="#a09870" stroke-width="0.6"/>
<rect x="286.4" y="239.3" width="13.4" height="4.3" fill="#f4f4f4"/><rect x="289.5" y="240.3" width="5.5" height="2.4" fill="#111"/>
<rect x="309" y="239.3" width="11.5" height="4.9" fill="#2a2a2a"/>
<rect x="278" y="249.2" width="2.6" height="3" fill="#555"/>
<rect x="282" y="249.2" width="2.6" height="3" fill="#555"/>
<rect x="286" y="249.2" width="2.6" height="3" fill="#555"/>
<rect x="290" y="249.2" width="2.6" height="3" fill="#555"/>
<rect x="294" y="249.2" width="2.6" height="3" fill="#555"/>
<rect x="304" y="249" width="16" height="3.2" fill="#333"/>
<rect x="273" y="260" width="6.7" height="7.3" fill="#9a9a9a"/>
<rect x="284.6" y="260.6" width="7.4" height="7.4" fill="#2a2a2a" stroke="#7ac890" stroke-width="0.5"/>
<rect x="295" y="255" width="3.6" height="18.4" fill="#151515"/>
<rect x="307.7" y="257.5" width="7.3" height="13.5" fill="#3a3030"/>
<line x1="307.7" y1="259" x2="315" y2="259" stroke="#7a5a5a" stroke-width="0.6"/>
<line x1="307.7" y1="262" x2="315" y2="262" stroke="#7a5a5a" stroke-width="0.6"/>
<line x1="307.7" y1="265" x2="315" y2="265" stroke="#7a5a5a" stroke-width="0.6"/>
<line x1="307.7" y1="268" x2="315" y2="268" stroke="#7a5a5a" stroke-width="0.6"/>
<rect x="274.3" y="282" width="5.4" height="13.3" fill="#6a80b0"/>
<rect x="280.3" y="280.7" width="15.2" height="15.2" fill="#f6f6f6"/><rect x="283" y="285" width="6" height="5" fill="#b0b0b0"/>
<rect x="306.5" y="283" width="7.3" height="11" fill="#3a3030"/>
<line x1="306.5" y1="285" x2="313.8" y2="285" stroke="#7a5a5a" stroke-width="0.6"/>
<line x1="306.5" y1="288" x2="313.8" y2="288" stroke="#7a5a5a" stroke-width="0.6"/>
<line x1="306.5" y1="291" x2="313.8" y2="291" stroke="#7a5a5a" stroke-width="0.6"/>
<rect x="282.2" y="302.6" width="4.8" height="7.3" fill="#151515"/>
<rect x="295.5" y="306" width="4.5" height="5" fill="#a8c8b8"/>
<rect x="305.3" y="306" width="4.5" height="5" fill="#a8c8b8"/>
<rect x="317.4" y="306" width="4.5" height="5" fill="#a8c8b8"/>
<rect x="300" y="276" width="1" height="3" fill="#c8e8d0"/>
<rect x="302" y="276" width="1" height="3" fill="#c8e8d0"/>
<rect x="316" y="276" width="1" height="3" fill="#c8e8d0"/>
<rect x="318" y="276" width="1" height="3" fill="#c8e8d0"/>
<rect x="246.4" y="259.3" width="26.1" height="9.4" fill="#1d3458"/>
<circle cx="255" cy="264" r="2.2" fill="#c8c8d8"/>
<rect x="272.5" y="260" width="7.5" height="8" fill="#a8a8a8"/>
<defs><radialGradient id="gGlow" cx="0.5" cy="0.5" r="0.5"><stop offset="0" stop-color="#d8f8f8" stop-opacity="0.9"/><stop offset="1" stop-color="#e8ffff" stop-opacity="0"/></radialGradient><radialGradient id="gW2" cx="0.35" cy="0.35" r="0.75"><stop offset="0" stop-color="#ffffff"/><stop offset="0.55" stop-color="#e4e4e4"/><stop offset="1" stop-color="#9a9a9a"/></radialGradient><radialGradient id="gB2" cx="0.35" cy="0.35" r="0.75"><stop offset="0" stop-color="#60b0f0"/><stop offset="0.6" stop-color="#1888c8"/><stop offset="1" stop-color="#0a4a80"/></radialGradient><radialGradient id="gB3" cx="0.35" cy="0.35" r="0.75"><stop offset="0" stop-color="#8080ff"/><stop offset="0.6" stop-color="#3838d0"/><stop offset="1" stop-color="#181880"/></radialGradient><radialGradient id="gGray" cx="0.35" cy="0.35" r="0.75"><stop offset="0" stop-color="#c8c8c8"/><stop offset="0.6" stop-color="#8a8a8a"/><stop offset="1" stop-color="#505050"/></radialGradient><filter id="fBlur" x="-0.5" y="-0.5" width="2" height="2"><feGaussianBlur stdDeviation="3"/></filter><filter id="fBlur1" x="-0.5" y="-0.5" width="2" height="2"><feGaussianBlur stdDeviation="1.2"/></filter></defs>
<text x="13.7" y="358.1" font-family="Liberation Sans" font-size="17.2">(a)</text>
<ellipse cx="86" cy="449" rx="30" ry="4.5" fill="#c4c4c4" filter="url(#fBlur)" transform="rotate(12 86 449)"/>
<polygon points="69,413 110,378 170,419 134,448" fill="#ececf8"/>
<g stroke="#d0e8ec" stroke-width="0.6" fill="none" opacity="0.9"><path d="M58 348 Q60 358 56 362"/><path d="M62 364 Q80 362 100 372"/><path d="M62 367 Q82 366 98 376"/><path d="M60 362 Q85 360 104 368"/></g>
<ellipse cx="56" cy="365" rx="10" ry="7" fill="#e2fafa"/><ellipse cx="75" cy="376" rx="9" ry="6" fill="#e2fafa"/><ellipse cx="97" cy="374" rx="7" ry="5" fill="#e8fafa"/>
<path d="M52 330 l1 -5 M56 329 l2 -6 M59 331 l3 -4" stroke="#dcdcdc" stroke-width="1.2"/>
<circle cx="61.8" cy="335.2" r="4.2" fill="url(#gB2)"/>
<circle cx="52.7" cy="339.5" r="4.6" fill="url(#gW2)"/>
<circle cx="53.8" cy="346" r="4.6" fill="url(#gW2)"/>
<circle cx="61" cy="346.8" r="4.6" fill="url(#gW2)"/>
<circle cx="64.2" cy="344.2" r="4.6" fill="url(#gW2)"/>
<circle cx="60.7" cy="339" r="4.6" fill="url(#gW2)"/>
<circle cx="80.8" cy="352.3" r="3.3" fill="url(#gB2)"/>
<circle cx="84" cy="356.8" r="3.7" fill="url(#gW2)"/>
<circle cx="91.2" cy="356.5" r="3.7" fill="url(#gW2)"/>
<circle cx="87.6" cy="352.9" r="3.7" fill="url(#gW2)"/>
<circle cx="50.9" cy="363.9" r="4.2" fill="url(#gW2)"/>
<circle cx="56.8" cy="366.7" r="4.2" fill="url(#gW2)"/>
<circle cx="52" cy="358.8" r="4.2" fill="url(#gW2)"/>
<circle cx="59.8" cy="360.6" r="3.6" fill="url(#gB3)"/>
<circle cx="76.9" cy="372.2" r="3.8" fill="url(#gW2)"/>
<circle cx="77.5" cy="379.3" r="3.8" fill="url(#gW2)"/>
<circle cx="73" cy="380" r="3.8" fill="url(#gW2)"/>
<circle cx="71.6" cy="375.1" r="3.6" fill="url(#gB3)"/>
<circle cx="94" cy="370.5" r="3.6" fill="url(#gW2)"/>
<circle cx="96" cy="377" r="3.6" fill="url(#gW2)"/>
<circle cx="100.5" cy="370" r="3.6" fill="url(#gW2)"/>
<circle cx="99" cy="375.1" r="3.1" fill="url(#gB3)"/>
<text transform="translate(32.4,367.6) rotate(34)" font-family="Liberation Sans" font-weight="bold" font-size="7.2">Alcohol solution</text>
<path d="M121.8 377.4 L121.9 377.9 L122.1 378.4 L122.3 378.9 L122.4 379.4 L122.6 379.8 L122.9 380.2 L123.1 380.5 L123.4 380.7 L123.8 381 L124.1 381.1 L124.5 381.2 L125 381.3 L125.4 381.3 L125.9 381.2 L126.4 381.2 L126.9 381.1 L127.5 381 L128 380.9 L128.5 380.8 L129 380.7 L129.5 380.6 L130 380.6 L130.4 380.7 L130.8 380.7 L131.2 380.9 L131.6 381.1 L131.9 381.3 L132.1 381.6 L132.4 382 L132.6 382.4 L132.8 382.8 L132.9 383.3 L133.1 383.8 L133.2 384.3 L133.4 384.9 L133.5 385.4 L133.7 385.9 L133.9 386.3 L134.1 386.8 L134.3 387.1 L134.5 387.5 L134.8 387.8 L135.2 388 L135.5 388.2 L135.9 388.3 L136.3 388.3 L136.8 388.3 L137.3 388.3 L137.8 388.3 L138.3 388.2 L138.8 388.1 L139.3 388 L139.9 387.9 L140.4 387.8 L140.9 387.7 L141.3 387.7 L141.8 387.7 L142.2 387.8 L142.6 387.9 L143 388.1 L143.3 388.3 L143.6 388.6 L143.8 389 L144 389.4 L144.2 389.8 L144.4 390.3 L144.5 390.8 L144.7 391.3 L144.8 391.8 L145 392.3 L145.1 392.8 L145.3 393.3 L145.5 393.7 L145.7 394.1 L146 394.5 L146.2 394.8 L146.5 395 L146.9 395.2 L147.3 395.3 L147.7 395.4 L148.1 395.4 L148.6 395.4 L149.1 395.4 L149.6 395.3 L150.1 395.2 L150.7 395.1 L151.2 395 L151.7 394.9 L152.2 394.8 L152.7 394.8 L153.2 394.8 L153.6 394.9 L154 395 L154.3 395.1 L154.7 395.3 L155 395.6 L155.2 396 L155.4 396.3 L155.6 396.8 L155.8 397.2 L156 397.7 L156.1 398.2 L156.3 398.7 L156.4 399.2 L156.6 399.8 L156.7 400.2 L156.9 400.7 L157.1 401.1 L157.4 401.5 L157.6 401.8 L157.9 402 L158.3 402.2 L158.6 402.4 L159.1 402.5 L159.5 402.5 L160 402.5 L160.4 402.5 L161 402.4 L161.5 402.3 L162 402.2" fill="none" stroke="#ababab" stroke-width="2.1"/>
<rect x="161" y="400.2" width="4.4" height="4" fill="#b4b4b4" transform="rotate(30 162 402.2)"/>
<path d="M119 393 L119.2 393.5 L119.3 394 L119.5 394.4 L119.7 394.9 L120 395.3 L120.2 395.6 L120.5 395.9 L120.8 396.1 L121.1 396.3 L121.5 396.4 L121.9 396.4 L122.3 396.4 L122.7 396.4 L123.2 396.3 L123.7 396.2 L124.1 396 L124.6 395.9 L125.1 395.7 L125.6 395.6 L126.1 395.4 L126.6 395.3 L127 395.3 L127.5 395.3 L127.9 395.3 L128.2 395.4 L128.6 395.5 L128.9 395.8 L129.2 396 L129.4 396.4 L129.6 396.7 L129.8 397.2 L130 397.6 L130.2 398.1 L130.4 398.6 L130.5 399.1 L130.7 399.6 L130.9 400 L131.1 400.5 L131.3 400.9 L131.6 401.2 L131.8 401.5 L132.1 401.8 L132.4 402 L132.8 402.1 L133.2 402.2 L133.6 402.2 L134 402.1 L134.5 402.1 L134.9 401.9 L135.4 401.8 L135.9 401.6 L136.4 401.5 L136.9 401.3 L137.4 401.2 L137.9 401.1 L138.3 401 L138.8 401 L139.2 401 L139.5 401.1 L139.9 401.2 L140.2 401.4 L140.5 401.7 L140.8 402 L141 402.3 L141.2 402.7 L141.4 403.2 L141.6 403.7 L141.8 404.1 L141.9 404.6 L142.1 405.1 L142.3 405.6 L142.5 406.1 L142.7 406.5 L142.9 406.8 L143.2 407.2 L143.5 407.4 L143.8 407.6 L144.1 407.8 L144.5 407.9 L144.9 407.9 L145.3 407.9 L145.8 407.8 L146.2 407.7 L146.7 407.6 L147.2 407.4 L147.7 407.2 L148.2 407.1 L148.7 406.9 L149.2 406.8 L149.6 406.7 L150.1 406.7 L150.5 406.7 L150.9 406.8 L151.2 406.9 L151.6 407.1 L151.9 407.3 L152.1 407.6 L152.4 407.9 L152.6 408.3 L152.8 408.8 L153 409.2 L153.1 409.7 L153.3 410.2 L153.5 410.7 L153.7 411.2 L153.8 411.6 L154.1 412.1 L154.3 412.4 L154.5 412.8 L154.8 413.1 L155.1 413.3 L155.4 413.4 L155.8 413.5 L156.2 413.6 L156.6 413.6 L157.1 413.5 L157.5 413.4 L158 413.3 L158.5 413.2 L159 413" fill="none" stroke="#ababab" stroke-width="2.1"/>
<rect x="158" y="411" width="4.4" height="4" fill="#b4b4b4" transform="rotate(30 159 413)"/>
<path d="M113.5 406.4 L113.7 406.9 L113.8 407.4 L114 407.8 L114.2 408.3 L114.4 408.7 L114.7 409 L114.9 409.3 L115.2 409.5 L115.6 409.7 L115.9 409.8 L116.3 409.9 L116.7 409.9 L117.2 409.9 L117.6 409.8 L118.1 409.7 L118.6 409.5 L119.1 409.4 L119.6 409.2 L120.1 409.1 L120.6 408.9 L121.1 408.9 L121.5 408.8 L121.9 408.8 L122.3 408.8 L122.7 408.9 L123 409.1 L123.3 409.3 L123.6 409.6 L123.9 409.9 L124.1 410.3 L124.3 410.7 L124.5 411.2 L124.7 411.7 L124.8 412.1 L125 412.6 L125.2 413.1 L125.3 413.6 L125.5 414 L125.7 414.4 L126 414.8 L126.2 415.1 L126.5 415.4 L126.8 415.6 L127.2 415.7 L127.6 415.8 L128 415.8 L128.4 415.8 L128.9 415.7 L129.4 415.6 L129.8 415.4 L130.3 415.3 L130.8 415.1 L131.3 415 L131.8 414.9 L132.3 414.8 L132.8 414.7 L133.2 414.7 L133.6 414.7 L134 414.8 L134.3 414.9 L134.6 415.1 L134.9 415.4 L135.2 415.7 L135.4 416.1 L135.6 416.5 L135.8 416.9 L136 417.4 L136.1 417.9 L136.3 418.4 L136.5 418.9 L136.7 419.4 L136.8 419.8 L137 420.2 L137.3 420.6 L137.5 420.9 L137.8 421.2 L138.1 421.4 L138.5 421.5 L138.8 421.6 L139.2 421.7 L139.7 421.7 L140.1 421.6 L140.6 421.5 L141.1 421.4 L141.6 421.2 L142.1 421.1 L142.6 420.9 L143.1 420.8 L143.5 420.7 L144 420.6 L144.4 420.6 L144.9 420.6 L145.2 420.6 L145.6 420.8 L145.9 420.9 L146.2 421.2 L146.5 421.5 L146.7 421.8 L146.9 422.2 L147.1 422.7 L147.3 423.1 L147.5 423.6 L147.6 424.1 L147.8 424.6 L148 425.1 L148.2 425.6 L148.4 426 L148.6 426.4 L148.8 426.7 L149.1 427 L149.4 427.2 L149.7 427.4 L150.1 427.5 L150.5 427.6 L150.9 427.6 L151.4 427.5 L151.8 427.4 L152.3 427.3 L152.8 427.2 L153.3 427" fill="none" stroke="#ababab" stroke-width="2.1"/>
<rect x="152.3" y="425" width="4.4" height="4" fill="#b4b4b4" transform="rotate(30 153.3 427)"/>
<path d="M97 384 Q100 394 112 398" fill="none" stroke="#a0a0a0" stroke-width="1.6"/>
<path d="M98 381 Q102 376 108 375" fill="none" stroke="#b0b0b0" stroke-width="1.2"/>
<polygon points="88,393 112,363.6 132,379 110,408" fill="none" stroke="#222" stroke-width="0.85" stroke-dasharray="2 1.2"/>
<ellipse cx="112.5" cy="386.2" rx="8.6" ry="5" fill="#1a1a1a" transform="rotate(28 112.5 386.2)"/>
<path d="M103.5 376 Q112 370 120.5 373" fill="none" stroke="#111" stroke-width="1.1"/>
<line x1="102" y1="408" x2="102" y2="464" stroke="#333" stroke-width="0.8" stroke-dasharray="1 1.2"/>
<path d="M100 462 L102 466.5 L104 462" fill="none" stroke="#333" stroke-width="0.8"/>
<text transform="translate(120.5,434.5) rotate(33)" font-family="Liberation Sans" font-weight="bold" font-size="7.4">Stretchable</text>
<text transform="translate(120,444.5) rotate(33)" font-family="Liberation Sans" font-weight="bold" font-size="7.4">substrate</text>
<text x="190" y="389.8" font-family="Liberation Sans" font-weight="bold" font-size="7.1" text-anchor="middle">Selective</text>
<text x="189.7" y="397.7" font-family="Liberation Sans" font-weight="bold" font-size="7.1" text-anchor="middle">monitoring</text>
<line x1="163.8" y1="391.6" x2="213" y2="391.6" stroke="#111" stroke-width="1"/>
<path d="M211.8 389.4 L215.8 391.6 L211.8 393.8 Z" fill="#111"/>
<rect x="50" y="472" width="153.6" height="72.9" fill="none" stroke="#444" stroke-width="0.9" stroke-dasharray="0.9 0.7"/>
<text x="67.8" y="483" font-family="Liberation Sans" font-weight="bold" font-size="6.8" text-anchor="middle" fill="#222">CE</text>
<text x="125.7" y="483" font-family="Liberation Sans" font-weight="bold" font-size="6.8" text-anchor="middle" fill="#222">WE</text>
<text x="182.3" y="483" font-family="Liberation Sans" font-weight="bold" font-size="6.8" text-anchor="middle" fill="#222">RE</text>
<rect x="56.4" y="517.3" width="143.9" height="8.8" fill="#dcdcf2"/>
<text x="124.8" y="523.8" font-family="Liberation Sans" font-weight="bold" font-size="7.6" text-anchor="middle" fill="#222">Rubber gloves</text>
<rect x="56.4" y="505.8" width="35" height="11.5" fill="#e2e2e2"/><rect x="56.4" y="497" width="35" height="8.8" fill="#bdbdbd"/>
<rect x="99.6" y="505.8" width="58.2" height="11.5" fill="#e2e2e2"/><rect x="99.6" y="497" width="58.2" height="8.8" fill="#bdbdbd"/>
<rect x="99.6" y="487.8" width="58.2" height="9.2" fill="#f4c8c8"/>
<rect x="166" y="505.8" width="34.3" height="11.5" fill="#e2e2e2"/>
<text x="73.9" y="504" font-family="Liberation Sans" font-weight="bold" font-size="7.4" text-anchor="middle" fill="#222">C</text>
<text x="73.9" y="514.5" font-family="Liberation Sans" font-weight="bold" font-size="8" text-anchor="middle" fill="#222">Ag/AgCl</text>
<text x="128.7" y="504" font-family="Liberation Sans" font-weight="bold" font-size="7.4" text-anchor="middle" fill="#222">C</text>
<text x="128.7" y="514.5" font-family="Liberation Sans" font-weight="bold" font-size="7.4" text-anchor="middle" fill="#222">Ag/AgCl</text>
<text x="183.2" y="514.5" font-family="Liberation Sans" font-weight="bold" font-size="7.4" text-anchor="middle" fill="#222">Ag/AgCl</text>
<text x="127" y="495.3" font-family="Liberation Sans" font-weight="bold" font-size="7" text-anchor="middle" fill="#222">Pt@Au<tspan font-size="4.2">NS</tspan></text>
<text x="123.9" y="542.4" font-family="Liberation Sans" font-weight="bold" font-size="7.25" text-anchor="middle" fill="#222">Cross Section View</text>
<rect x="271" y="377" width="33" height="44.5" fill="#fcebf1"/>
<rect x="256.4" y="407.7" width="81.6" height="13.7" fill="#fdeef3"/>
<rect x="288" y="482" width="32" height="48" fill="#fdf5f9"/>
<rect x="225" y="366.8" width="115.5" height="169.6" fill="none" stroke="#222" stroke-width="1.1"/>
<line x1="225" y1="422" x2="340.5" y2="422" stroke="#222" stroke-width="1.1"/>
<line x1="225" y1="480" x2="340.5" y2="480" stroke="#222" stroke-width="1.1"/>
<path d="M230.2 416.4 C235.5 416.4 255.6 416.4 262 416.3 C268.4 416.2 266.4 417.1 268.9 415.7 C271.4 414.3 274 411.7 276.8 407.7 C279.6 403.7 283.3 396.7 285.9 391.8 C288.5 386.9 290.8 380.9 292.3 378.2 C293.8 375.5 294 375.3 295 375.5 C296 375.7 297.4 376 298.2 379.5 C298.9 383 299.1 391.5 299.5 396.4 C299.9 401.3 300.1 405.7 300.7 408.9 C301.3 412.1 302.1 414.4 303 415.7 C303.9 416.9 300.7 416.3 306 416.4 C311.3 416.5 330 416.4 334.8 416.4" fill="none" stroke="#b08058" stroke-width="1.45"/>
<path d="M268.9 415.7 C269.5 415.5 270.6 414.9 272.3 414.5 C274 414.1 276.7 413.4 279 413.3 C281.3 413.2 283.2 413.6 285.9 414 C288.6 414.4 292.1 415.3 295 415.7 C297.9 416.1 301.7 416.2 303 416.3" fill="none" stroke="#b08058" stroke-width="1.45"/>
<path d="M230.2 473.6 C234.6 473.3 250.9 472.3 256.4 471.6 C261.9 470.9 260.7 470.6 263 469.5 C265.3 468.4 267.3 468.1 270 465 C272.7 461.9 276 456 279 451 C282 446 285.5 438.6 288 435 C290.5 431.4 292.6 430.4 293.9 429.3 C295.2 428.2 295.2 428 296 428.2 C296.8 428.4 297.8 427.5 298.4 430.5 C299 433.5 299.1 440.9 299.5 446.4 C299.9 451.9 299.9 460.1 300.7 463.4 C301.4 466.7 302.5 465.9 304 466.4 C305.5 466.9 308.1 466 309.8 466.6 C311.5 467.2 312.6 469.1 314.3 470.2 C316 471.3 316.6 472.6 320 473.2 C323.4 473.8 332.3 473.5 334.8 473.6" fill="none" stroke="#98c068" stroke-width="1.45"/>
<path d="M270 465 C270.8 465.7 272.8 468.2 274.5 469 C276.2 469.8 278.1 469.9 280 470 C281.9 470.1 283.4 469.2 285.9 469.6 C288.4 470 292.4 471.8 295 472.5 C297.6 473.2 300.7 473.4 301.8 473.6" fill="none" stroke="#98c068" stroke-width="1.45"/>
<path d="M230.9 530.2 C236.1 530.2 255.9 530.1 262 530 C268.1 529.9 264.9 530.4 267.7 529.5 C270.5 528.6 275.2 526.5 279 524.5 C282.8 522.5 287.1 519.8 290.5 517.7 C293.9 515.6 296.9 514.3 299.5 512 C302.1 509.7 304.5 506.8 306.4 504 C308.3 501.2 309.7 497.8 311 495 C312.3 492.2 313.4 488.6 314.3 487 C315.2 485.4 316 484.9 316.6 485.5 C317.2 486.1 317.8 486.2 318.2 490.5 C318.6 494.8 318.7 504.5 318.9 511 C319.1 517.5 319.1 526.3 319.3 529.5 C319.5 532.7 317.4 530.1 320 530.2 C322.6 530.3 332.3 530.2 334.8 530.2" fill="none" stroke="#b898e0" stroke-width="1.45"/>
<path d="M267.7 529.5 C270 529.4 277.2 529.2 281.4 528.6 C285.6 528 290.2 526.8 292.7 525.7 C295.1 524.7 295.2 521.8 296.1 522.3 C297.1 522.8 297.6 527.7 298.4 529 C299.2 530.3 300.3 530 300.7 530.2" fill="none" stroke="#b898e0" stroke-width="1.45"/>
<text x="257.5" y="383.6" font-family="Liberation Sans" font-weight="bold" font-size="7.4" text-anchor="middle">MeOH</text>
<text x="257.5" y="441.1" font-family="Liberation Sans" font-weight="bold" font-size="7.4" text-anchor="middle">EtOH</text>
<text x="267.7" y="498.8" font-family="Liberation Sans" font-weight="bold" font-size="7.4" text-anchor="middle">2-Propanol</text>
<text x="290.2" y="544.5" font-family="Liberation Sans" font-weight="bold" font-size="7.2" text-anchor="middle">Potential</text>
<text transform="translate(219.4,450.4) rotate(-90)" font-family="Liberation Sans" font-weight="bold" font-size="7.1" text-anchor="middle">Current density</text>
<rect x="259" y="391" width="10" height="7" fill="#dcf8fa"/>
<circle cx="250.5" cy="392" r="3.6" fill="url(#gW2)"/><circle cx="255" cy="390" r="3.6" fill="url(#gW2)"/><circle cx="250" cy="397" r="3.4" fill="url(#gW2)"/><circle cx="254.5" cy="396" r="3.6" fill="url(#gW2)"/><circle cx="257.5" cy="398.5" r="3.3" fill="url(#gB3)"/>
<rect x="252" y="449" width="10" height="8" fill="#dcf8fa"/>
<circle cx="254" cy="450" r="3.5" fill="url(#gW2)"/><circle cx="256.5" cy="455" r="3.5" fill="url(#gW2)"/><circle cx="252.5" cy="456" r="3.4" fill="url(#gW2)"/><circle cx="248.5" cy="452.5" r="3.7" fill="url(#gB3)"/>
<rect x="259" y="506" width="10" height="6" fill="#dcf8fa"/>
<circle cx="248" cy="511" r="3.6" fill="url(#gW2)"/><circle cx="252" cy="516" r="3.6" fill="url(#gW2)"/><circle cx="257.5" cy="515.5" r="3.6" fill="url(#gW2)"/><circle cx="253" cy="509" r="3.4" fill="url(#gW2)"/><circle cx="258" cy="507.5" r="3.4" fill="url(#gB3)"/>
<text x="347.7" y="362.7" font-family="Liberation Sans" font-size="17.2">(e)</text>
<polygon points="358.8,380.3 431,345.3 432,433.4 368.4,478" fill="#fff"/>
<g stroke="#ececec" stroke-width="0.5">
<line x1="438.1" y1="347.6" x2="438.4" y2="436.3"/>
<line x1="445.1" y1="349.9" x2="444.8" y2="439.3"/>
<line x1="452.2" y1="352.2" x2="451.2" y2="442.2"/>
<line x1="459.2" y1="354.6" x2="457.6" y2="445.2"/>
<line x1="466.3" y1="356.9" x2="464" y2="448.1"/>
<line x1="473.4" y1="359.2" x2="470.4" y2="451.1"/>
<line x1="480.4" y1="361.5" x2="476.7" y2="454.1"/>
<line x1="487.5" y1="363.8" x2="483.1" y2="457"/>
<line x1="494.5" y1="366.2" x2="489.5" y2="459.9"/>
<line x1="501.6" y1="368.5" x2="495.9" y2="462.9"/>
<line x1="508.6" y1="370.8" x2="502.3" y2="465.9"/>
<line x1="431.7" y1="404" x2="511" y2="436.9"/>
<line x1="431.7" y1="404" x2="365.2" y2="445.4"/>
<line x1="431.3" y1="374.7" x2="513.4" y2="405"/>
<line x1="431.3" y1="374.7" x2="362" y2="412.9"/>
</g>
<polygon points="399.3,374 413,371 413,470 399.3,470" fill="#fdf0f6"/><polygon points="425.5,376 432,374 432,452 425.5,452" fill="#fdf0f6"/>
<polygon points="386,431 415,431 415,468 386,468" fill="#fce4f0" opacity="0.8"/>
<polygon points="395,460 430,452 470,470 440,486" fill="#fdeaf4" opacity="0.7"/>
<g stroke="#8a8a8a" stroke-width="0.6" fill="none">
<polyline points="358.8,380.3 431,345.3 515.7,373.1"/>
<line x1="431" y1="345.3" x2="432" y2="433.4"/><line x1="358.8" y1="380.3" x2="368.4" y2="478"/>
<line x1="432" y1="433.4" x2="508.7" y2="468.8"/><line x1="432" y1="433.4" x2="368.4" y2="478"/>
</g>
<g stroke="#333" stroke-width="0.8" fill="none"><line x1="515.7" y1="373.1" x2="508.7" y2="468.8"/><polyline points="368.4,478 447,524 508.7,468.8"/></g>
<text x="520.5" y="377.2" font-family="Liberation Sans" font-weight="bold" font-size="7" text-anchor="middle">3</text>
<text x="516.5" y="411.7" font-family="Liberation Sans" font-weight="bold" font-size="7" text-anchor="middle">2</text>
<text x="514.5" y="443.7" font-family="Liberation Sans" font-weight="bold" font-size="7" text-anchor="middle">1</text>
<text x="512" y="472.5" font-family="Liberation Sans" font-weight="bold" font-size="7" text-anchor="middle">0</text>
<text transform="translate(528,426) rotate(-82)" font-family="Liberation Sans" font-weight="bold" font-size="7" text-anchor="middle"><tspan font-style="italic">j</tspan> (mA mm<tspan font-size="4.5" dy="-2.5">-2</tspan><tspan dy="2.5">)</tspan></text>
<text transform="translate(500.5,485.5) rotate(-45)" font-family="Liberation Sans" font-weight="bold" font-size="6.6" text-anchor="middle">0.22</text>
<text transform="translate(470,513) rotate(-45)" font-family="Liberation Sans" font-weight="bold" font-size="6.6" text-anchor="middle">-0.17</text>
<text transform="translate(490.5,503.5) rotate(-45)" font-family="Liberation Sans" font-weight="bold" font-size="7" text-anchor="middle"><tspan font-style="italic">E</tspan> (V)</text>
<polygon points="422.5,378.5 425.7,376 425.7,445.8 422.5,448.3" fill="#6a48b0"/><rect x="413" y="378.5" width="9.5" height="69.8" fill="#8e70d0"/><polygon points="413,378.5 416.2,376 425.7,376 422.5,378.5" fill="#a890e0"/>
<polygon points="429,436.5 432.5,434 432.5,449 429,451.5" fill="#78a038"/><rect x="421" y="436.5" width="8" height="15" fill="#98c050"/><polygon points="421,436.5 424.5,434 432.5,434 429,436.5" fill="#b8d878"/>
<polygon points="386.4,452.5 388.4,451 388.4,468 386.4,469.5" fill="#7a58b8"/><rect x="381.1" y="452.5" width="5.3" height="17" fill="#9a78d8"/><polygon points="381.1,452.5 383.1,451 388.4,451 386.4,452.5" fill="#b8a0e8"/>
<polygon points="394.5,390 399.1,386.5 399.1,436.5 394.5,440" fill="#68a030"/><rect x="383.2" y="390" width="11.3" height="50" fill="#80b840"/><polygon points="383.2,390 387.8,386.5 399.1,386.5 394.5,390" fill="#a0d060"/>
<polygon points="393,434 396,432 396,472.8 393,474.8" fill="#a88040"/><rect x="386.4" y="434" width="6.6" height="40.8" fill="#c8a060"/><polygon points="386.4,434 389.4,432 396,432 393,434" fill="#d8b880"/>
<polygon points="403,437.5 407.6,434 407.6,474.5 403,478" fill="#8a5a38"/><rect x="393" y="437.5" width="10" height="40.5" fill="#a87850"/><polygon points="393,437.5 397.6,434 407.6,434 403,437.5" fill="#c09068"/>
<rect x="429.5" y="449.4" width="10" height="4.2" fill="#8a6a40" transform="rotate(-28 434.5 451.5)"/>
<rect x="436.5" y="452.8" width="10" height="4.2" fill="#e8b8b0" transform="rotate(-28 441.5 454.9)"/>
<rect x="443.5" y="456.3" width="10" height="4.2" fill="#b8c870" transform="rotate(-28 448.5 458.4)"/>
<rect x="450.5" y="459.7" width="10" height="4.2" fill="#c0a8a8" transform="rotate(-28 455.5 461.8)"/>
<rect x="457.5" y="463.1" width="10" height="4.2" fill="#a89098" transform="rotate(-28 462.5 465.2)"/>
<rect x="464.5" y="466.6" width="10" height="4.2" fill="#c090d0" transform="rotate(-28 469.5 468.7)"/>
<rect x="471.5" y="470" width="10" height="4.2" fill="#8040c0" transform="rotate(-28 476.5 472.1)"/>
<rect x="478.5" y="473.5" width="10" height="4.2" fill="#2020c0" transform="rotate(-28 483.5 475.6)"/>
<rect x="485.5" y="476.9" width="10" height="4.2" fill="#402080" transform="rotate(-28 490.5 479)"/>
<rect x="403" y="475.9" width="10" height="4.2" fill="#c8c080" transform="rotate(-28 408 478)"/>
<rect x="410.4" y="480.1" width="10" height="4.2" fill="#b0c878" transform="rotate(-28 415.4 482.2)"/>
<rect x="417.8" y="484.3" width="10" height="4.2" fill="#c8b0b0" transform="rotate(-28 422.8 486.4)"/>
<rect x="425.2" y="488.5" width="10" height="4.2" fill="#a89098" transform="rotate(-28 430.2 490.6)"/>
<rect x="432.5" y="492.8" width="10" height="4.2" fill="#c898d0" transform="rotate(-28 437.5 494.9)"/>
<rect x="439.9" y="497" width="10" height="4.2" fill="#8848c0" transform="rotate(-28 444.9 499.1)"/>
<rect x="447.3" y="501.2" width="10" height="4.2" fill="#2020c0" transform="rotate(-28 452.3 503.3)"/>
<rect x="454.7" y="505.4" width="10" height="4.2" fill="#402080" transform="rotate(-28 459.7 507.5)"/>
<text transform="translate(386.6,386.3) rotate(-25)" font-family="Liberation Sans" font-weight="bold" font-size="7" text-anchor="middle">Peak 1</text>
<text transform="translate(416,371.8) rotate(-25)" font-family="Liberation Sans" font-weight="bold" font-size="7" text-anchor="middle">Peak 2</text>
<text transform="translate(370.5,484) rotate(-60)" font-family="Liberation Sans" font-weight="bold" font-size="7.4" text-anchor="end" fill="#7060b8">2-Propanol</text>
<text transform="translate(377.5,488.5) rotate(-60)" font-family="Liberation Sans" font-weight="bold" font-size="7.4" text-anchor="end" fill="#c8c070">EtOH</text>
<text transform="translate(384.4,493) rotate(-60)" font-family="Liberation Sans" font-weight="bold" font-size="7.4" text-anchor="end" fill="#a07840">MeOH</text>
<text transform="translate(391.4,497.5) rotate(-60)" font-family="Liberation Sans" font-weight="bold" font-size="7.4" text-anchor="end" fill="#c8b890">DMC</text>
<text transform="translate(398.3,502) rotate(-60)" font-family="Liberation Sans" font-weight="bold" font-size="7.4" text-anchor="end" fill="#b8c078">AMH</text>
<text transform="translate(405.3,506.5) rotate(-60)" font-family="Liberation Sans" font-weight="bold" font-size="7.4" text-anchor="end" fill="#c8b8b8">ACN</text>
<text transform="translate(412.3,511) rotate(-60)" font-family="Liberation Sans" font-weight="bold" font-size="7.4" text-anchor="end" fill="#a898a8">ACE</text>
<text transform="translate(419.2,515.5) rotate(-60)" font-family="Liberation Sans" font-weight="bold" font-size="7.4" text-anchor="end" fill="#c890c8">THF</text>
<text transform="translate(426.2,520) rotate(-60)" font-family="Liberation Sans" font-weight="bold" font-size="7.4" text-anchor="end" fill="#9040c0">DCM</text>
<text transform="translate(433.1,524.5) rotate(-60)" font-family="Liberation Sans" font-weight="bold" font-size="7.4" text-anchor="end" fill="#3020c0">PhMe</text>
<text transform="translate(440.1,529) rotate(-60)" font-family="Liberation Sans" font-weight="bold" font-size="7.4" text-anchor="end" fill="#502890">CYH</text>
<rect x="96.5" y="614" width="49" height="51" fill="#fdf2f7"/><rect x="112.9" y="567.4" width="16.4" height="97" fill="#fcecf4"/><rect x="60.5" y="656.6" width="119" height="7" fill="#fce8f1"/><rect x="167" y="576.4" width="9.7" height="80" fill="#fdf0f8"/>
<rect x="48" y="563.1" width="131.8" height="110.2" fill="none" stroke="#222" stroke-width="1.2"/><line x1="48.8" y1="673.3" x2="48.8" y2="675.1" stroke="#222" stroke-width="0.9"/><text x="48.8" y="683.8" font-family="Liberation Sans" font-weight="bold" font-size="8.5" text-anchor="middle">-1.2</text><line x1="88.1" y1="673.3" x2="88.1" y2="675.1" stroke="#222" stroke-width="0.9"/><text x="88.1" y="683.8" font-family="Liberation Sans" font-weight="bold" font-size="8.5" text-anchor="middle">-0.6</text><line x1="127.4" y1="673.3" x2="127.4" y2="675.1" stroke="#222" stroke-width="0.9"/><text x="127.4" y="683.8" font-family="Liberation Sans" font-weight="bold" font-size="8.5" text-anchor="middle">0.0</text><line x1="166.7" y1="673.3" x2="166.7" y2="675.1" stroke="#222" stroke-width="0.9"/><text x="166.7" y="683.8" font-family="Liberation Sans" font-weight="bold" font-size="8.5" text-anchor="middle">0.6</text><line x1="46.2" y1="663.3" x2="48" y2="663.3" stroke="#222" stroke-width="0.9"/><text x="44.5" y="666.4" font-family="Liberation Sans" font-weight="bold" font-size="8.5" text-anchor="end">0</text><line x1="46.2" y1="643.1" x2="48" y2="643.1" stroke="#222" stroke-width="0.9"/><text x="44.5" y="646.2" font-family="Liberation Sans" font-weight="bold" font-size="8.5" text-anchor="end">1</text><line x1="46.2" y1="623" x2="48" y2="623" stroke="#222" stroke-width="0.9"/><text x="44.5" y="626.1" font-family="Liberation Sans" font-weight="bold" font-size="8.5" text-anchor="end">2</text><line x1="46.2" y1="602.8" x2="48" y2="602.8" stroke="#222" stroke-width="0.9"/><text x="44.5" y="605.9" font-family="Liberation Sans" font-weight="bold" font-size="8.5" text-anchor="end">3</text><line x1="46.2" y1="582.7" x2="48" y2="582.7" stroke="#222" stroke-width="0.9"/><text x="44.5" y="585.8" font-family="Liberation Sans" font-weight="bold" font-size="8.5" text-anchor="end">4</text><line x1="46.2" y1="562.5" x2="48" y2="562.5" stroke="#222" stroke-width="0.9"/><text x="44.5" y="565.6" font-family="Liberation Sans" font-weight="bold" font-size="8.5" text-anchor="end">5</text><text x="13.8" y="572.4" font-family="Liberation Sans" font-size="17.2">(b)</text>
<text transform="translate(33.3,619) rotate(-90)" font-family="Liberation Sans" font-weight="bold" font-size="8.8" text-anchor="middle" textLength="51" lengthAdjust="spacingAndGlyphs"><tspan font-style="italic">j</tspan> (mA mm<tspan font-size="5.5" dy="-3">-2</tspan><tspan dy="3">)</tspan></text>
<text x="111.3" y="689.5" font-family="Liberation Sans" font-weight="bold" font-size="9" text-anchor="middle"><tspan font-style="italic">E</tspan> (V)</text>
<path d="M61.9 663.3 C65.8 663.3 80.8 663.6 85.5 663.3 C90.2 663 88.8 662.3 90.1 661.5 C91.4 660.8 91.9 660.1 93.3 658.6 C94.8 657.2 96.4 655.3 98.6 652.8 C100.8 650.2 104 646.2 106.4 643.4 C108.8 640.7 111.4 638 113 636.4 C114.6 634.9 115.4 634.3 116.3 634.1 C117.1 633.8 117.7 634.3 118.2 635 C118.8 635.6 119.1 636.1 119.5 638.2 C120 640.2 120.4 644.3 120.9 647.2 C121.3 650.2 121.8 654.2 122.5 656 C123.1 657.7 124 657.4 124.8 657.7 C125.6 658.1 126.5 658.1 127.4 658.3 C128.3 658.6 129.1 658.7 130 659.2 C130.9 659.7 131.7 660.9 132.6 661.5 C133.6 662.2 134.8 662.6 135.9 662.9 C137 663.2 134.1 663.2 139.2 663.3 C144.3 663.4 162.1 663.3 166.7 663.3" fill="none" stroke="#d8c0d0" stroke-width="1.1"/>
<path d="M61.9 663.3 C66.6 663.3 84.6 664 90.1 663.3 C95.5 662.6 93.3 661.1 94.7 659.3 C96 657.5 96.5 656 97.9 652.7 C99.3 649.3 101 645.1 103.2 639.4 C105.3 633.6 108.6 624.3 111 618.1 C113.4 611.9 115.9 605.7 117.6 602.1 C119.2 598.6 120 597.4 120.9 596.8 C121.7 596.3 122.3 597.2 122.8 598.8 C123.4 600.4 123.7 601.5 124.1 606.1 C124.6 610.8 124.9 620 125.4 626.7 C125.9 633.5 126.4 642.7 127.1 646.7 C127.7 650.7 128.5 649.8 129.4 650.7 C130.2 651.6 131.1 651.4 132 652 C132.9 652.5 133.7 652.8 134.6 654 C135.5 655.2 136.2 657.9 137.2 659.3 C138.2 660.7 139.4 661.6 140.5 662.3 C141.6 663 139.4 663.1 143.8 663.3 C148.1 663.5 162.9 663.3 166.7 663.3" fill="none" stroke="#f4d878" stroke-width="1.1"/>
<path d="M61.9 663.3 C66.7 663.3 85.2 664.1 90.7 663.3 C96.3 662.5 94 660.7 95.3 658.7 C96.6 656.7 97.2 654.9 98.6 651 C100 647.2 101.6 642.4 103.8 635.7 C106 629.1 109.3 618.4 111.7 611.2 C114.1 604.1 116.6 596.9 118.2 592.9 C119.9 588.8 120.6 587.4 121.5 586.7 C122.4 586.1 122.9 587.2 123.5 589 C124 590.8 124.3 592.1 124.8 597.4 C125.2 602.8 125.6 613.4 126.1 621.2 C126.6 629 127.1 639.6 127.7 644.2 C128.4 648.8 129.2 647.7 130 648.8 C130.8 649.8 131.8 649.6 132.6 650.3 C133.5 650.9 134.4 651.2 135.3 652.6 C136.1 654 136.9 657.1 137.9 658.7 C138.9 660.3 140.1 661.4 141.2 662.2 C142.2 662.9 140.2 663.1 144.4 663.3 C148.7 663.5 163 663.3 166.7 663.3" fill="none" stroke="#f0c058" stroke-width="1.1"/>
<path d="M61.9 663.3 C66.8 663.3 85.7 664.1 91.4 663.3 C97.1 662.5 94.7 660.6 96 658.5 C97.3 656.3 97.8 654.4 99.2 650.4 C100.7 646.4 102.3 641.3 104.5 634.3 C106.7 627.3 109.9 616 112.3 608.5 C114.7 601 117.2 593.4 118.9 589.1 C120.5 584.8 121.3 583.4 122.2 582.7 C123 582 123.6 583.2 124.1 585.1 C124.7 587 125 588.3 125.4 594 C125.9 599.6 126.3 610.8 126.7 619 C127.2 627.2 127.7 638.3 128.4 643.1 C129 648 129.9 646.9 130.7 648 C131.5 649.1 132.4 648.9 133.3 649.6 C134.2 650.3 135 650.5 135.9 652 C136.8 653.5 137.6 656.8 138.5 658.5 C139.5 660.1 140.7 661.3 141.8 662.1 C142.9 662.9 140.9 663.1 145.1 663.3 C149.2 663.5 163.1 663.3 166.7 663.3" fill="none" stroke="#e8b060" stroke-width="1.1"/>
<path d="M61.9 663.3 C66.9 663.3 86.2 664.1 92 663.3 C97.8 662.5 95.3 660.5 96.6 658.3 C97.9 656.1 98.5 654.1 99.9 649.9 C101.3 645.7 102.9 640.4 105.1 633.2 C107.3 625.9 110.6 614.2 113 606.4 C115.4 598.6 117.9 590.8 119.5 586.4 C121.2 581.9 121.9 580.4 122.8 579.7 C123.7 579 124.2 580.2 124.8 582.2 C125.3 584.1 125.7 585.5 126.1 591.4 C126.5 597.2 126.9 608.8 127.4 617.3 C127.9 625.8 128.4 637.4 129 642.4 C129.7 647.4 130.5 646.3 131.3 647.4 C132.1 648.5 133.1 648.4 134 649.1 C134.8 649.8 135.7 650.1 136.6 651.6 C137.4 653.1 138.2 656.5 139.2 658.3 C140.2 660 141.4 661.2 142.5 662 C143.6 662.9 141.7 663.1 145.7 663.3 C149.8 663.5 163.2 663.3 166.7 663.3" fill="none" stroke="#e0a060" stroke-width="1.1"/>
<path d="M61.9 663.3 C66.9 663.3 86.2 664.2 92 663.3 C97.8 662.4 95.3 660.4 96.6 658.1 C97.9 655.8 98.5 653.8 99.9 649.4 C101.3 645.1 102.9 639.6 105.1 632.1 C107.3 624.6 110.6 612.5 113 604.4 C115.4 596.3 117.9 588.2 119.5 583.6 C121.2 579 121.9 577.4 122.8 576.7 C123.7 575.9 124.2 577.2 124.8 579.3 C125.3 581.3 125.7 582.7 126.1 588.8 C126.5 594.9 126.9 606.8 127.4 615.6 C127.9 624.5 128.4 636.4 129 641.6 C129.7 646.8 130.5 645.7 131.3 646.8 C132.1 648 133.1 647.8 134 648.6 C134.8 649.3 135.7 649.6 136.6 651.2 C137.4 652.8 138.2 656.3 139.2 658.1 C140.2 659.9 141.4 661.1 142.5 662 C143.6 662.9 141.7 663.1 145.7 663.3 C149.8 663.5 163.2 663.3 166.7 663.3" fill="none" stroke="#d89858" stroke-width="1.1"/>
<path d="M61.9 663.3 C67.1 663.3 87.3 664.2 93.3 663.3 C99.3 662.4 96.6 660.3 97.9 657.9 C99.2 655.5 99.8 653.4 101.2 648.9 C102.6 644.3 104.3 638.6 106.4 630.8 C108.6 623 111.9 610.3 114.3 601.9 C116.7 593.5 119.2 585.1 120.9 580.2 C122.5 575.4 123.3 573.8 124.1 573 C125 572.3 125.5 573.6 126.1 575.7 C126.6 577.8 127 579.3 127.4 585.7 C127.8 592 128.2 604.5 128.7 613.7 C129.2 622.8 129.7 635.3 130.3 640.7 C131 646.1 131.8 644.9 132.6 646.1 C133.5 647.4 134.4 647.2 135.3 648 C136.1 648.7 137 649 137.9 650.7 C138.8 652.3 139.5 656 140.5 657.9 C141.5 659.8 142.7 661 143.8 661.9 C144.9 662.8 143.2 663.1 147.1 663.3 C150.9 663.5 163.4 663.3 166.7 663.3" fill="none" stroke="#7a5a22" stroke-width="1.9"/>
<path d="M91.4 663.3 C92.5 663 96.3 662.5 97.9 661.7 C99.6 660.8 100.1 658.3 101.2 658.1 C102.3 658 102.8 660.5 104.5 660.9 C106.1 661.3 108.8 660.7 111 660.4 C113.2 660.1 115.4 659 117.6 658.9 C119.8 658.9 121.9 659.8 124.1 660.1 C126.3 660.4 128.8 660.4 130.7 660.9 C132.5 661.4 133.6 662.6 135.3 663 C136.9 663.4 139.6 663.2 140.5 663.3" fill="none" stroke="#f0a868" stroke-width="1.4"/>
<path d="M91.4 663.3 C92.5 663 96.3 662.4 97.9 661.3 C99.6 660.2 100.1 657 101.2 656.9 C102.3 656.7 102.8 659.8 104.5 660.3 C106.1 660.7 108.8 660.1 111 659.7 C113.2 659.3 115.4 657.9 117.6 657.9 C119.8 657.8 121.9 658.9 124.1 659.3 C126.3 659.7 128.8 659.7 130.7 660.3 C132.5 660.9 133.6 662.4 135.3 662.9 C136.9 663.4 139.6 663.2 140.5 663.3" fill="none" stroke="#7a5a22" stroke-width="1.4"/>
<text x="163.1" y="573.9" font-family="Liberation Sans" font-weight="bold" font-size="8.8" text-anchor="middle">1.2 M</text>
<text x="163.6" y="620" font-family="Liberation Sans" font-weight="bold" font-size="8.8" text-anchor="middle">0.2 M</text>
<linearGradient id="ga1" x1="0" y1="1" x2="0" y2="0"><stop offset="0" stop-color="#f0e070" stop-opacity="0.3"/><stop offset="1" stop-color="#a07040"/></linearGradient><polygon points="160.3,609 160.3,581.7 157.9,581.7 162.9,576.5 167.9,581.7 165.5,581.7 165.5,609" fill="url(#ga1)"/>
<rect x="84.5" y="583" width="12" height="8.8" fill="#e0fafa"/>
<circle cx="73" cy="578.5" r="4.6" fill="url(#gGray)"/><circle cx="77" cy="575" r="4" fill="url(#gGray)"/>
<circle cx="84" cy="586.5" r="4.6" fill="url(#gB3)"/><circle cx="79" cy="582" r="6" fill="url(#gW2)"/>
<text x="81.1" y="605" font-family="Liberation Sans" font-weight="bold" font-size="9" text-anchor="middle">MeOH</text>
<rect x="272.5" y="581.8" width="42.5" height="86" fill="#e6f9f9"/><rect x="256" y="656" width="63.5" height="12" fill="#e8fafa"/><rect x="315" y="576" width="33" height="91" fill="#f0fbfb"/>
<rect x="220.5" y="563.4" width="128.3" height="109.9" fill="none" stroke="#222" stroke-width="1.2"/><line x1="220.6" y1="673.3" x2="220.6" y2="675.1" stroke="#222" stroke-width="0.9"/><text x="220.6" y="683.8" font-family="Liberation Sans" font-weight="bold" font-size="8.5" text-anchor="middle">-1.2</text><line x1="259.1" y1="673.3" x2="259.1" y2="675.1" stroke="#222" stroke-width="0.9"/><text x="259.1" y="683.8" font-family="Liberation Sans" font-weight="bold" font-size="8.5" text-anchor="middle">-0.6</text><line x1="297.6" y1="673.3" x2="297.6" y2="675.1" stroke="#222" stroke-width="0.9"/><text x="297.6" y="683.8" font-family="Liberation Sans" font-weight="bold" font-size="8.5" text-anchor="middle">0.0</text><line x1="336.1" y1="673.3" x2="336.1" y2="675.1" stroke="#222" stroke-width="0.9"/><text x="336.1" y="683.8" font-family="Liberation Sans" font-weight="bold" font-size="8.5" text-anchor="middle">0.6</text><line x1="218.7" y1="666.9" x2="220.5" y2="666.9" stroke="#222" stroke-width="0.9"/><text x="217" y="670" font-family="Liberation Sans" font-weight="bold" font-size="8.5" text-anchor="end">0</text><line x1="218.7" y1="641.4" x2="220.5" y2="641.4" stroke="#222" stroke-width="0.9"/><text x="217" y="644.5" font-family="Liberation Sans" font-weight="bold" font-size="8.5" text-anchor="end">2</text><line x1="218.7" y1="615.9" x2="220.5" y2="615.9" stroke="#222" stroke-width="0.9"/><text x="217" y="619" font-family="Liberation Sans" font-weight="bold" font-size="8.5" text-anchor="end">4</text><line x1="218.7" y1="590.4" x2="220.5" y2="590.4" stroke="#222" stroke-width="0.9"/><text x="217" y="593.5" font-family="Liberation Sans" font-weight="bold" font-size="8.5" text-anchor="end">6</text><line x1="218.7" y1="564.9" x2="220.5" y2="564.9" stroke="#222" stroke-width="0.9"/><text x="217" y="568" font-family="Liberation Sans" font-weight="bold" font-size="8.5" text-anchor="end">8</text><text x="187" y="572.4" font-family="Liberation Sans" font-size="17.2">(c)</text>
<text transform="translate(206,619) rotate(-90)" font-family="Liberation Sans" font-weight="bold" font-size="8.8" text-anchor="middle" textLength="51" lengthAdjust="spacingAndGlyphs"><tspan font-style="italic">j</tspan> (mA mm<tspan font-size="5.5" dy="-3">-2</tspan><tspan dy="3">)</tspan></text>
<text x="281" y="689.5" font-family="Liberation Sans" font-weight="bold" font-size="9" text-anchor="middle"><tspan font-style="italic">E</tspan> (V)</text>
<path d="M233.4 666.9 C238.8 666.9 259.7 666.9 265.5 666.9 C271.3 666.9 266.9 667 268.1 666.8 C269.3 666.6 271.2 666.3 272.7 665.9 C274.2 665.4 275.6 664.6 277.1 664 C278.5 663.3 279.9 662.6 281.4 661.9 C283 661.2 284.9 660.4 286.3 659.8 C287.7 659.2 289.1 658.6 289.9 658.3 C290.7 658 290.5 658 291.2 658 C291.9 658 293.4 657.9 294.1 658.3 C294.8 658.7 295 660.2 295.4 660.5 C295.7 660.8 294.1 660 296.3 660 C298.5 660 306.1 660.4 308.5 660.5 C311 660.7 310.4 660.5 311.1 661 C311.8 661.6 312 662.9 312.7 663.7 C313.3 664.5 314.1 665.5 314.9 666 C315.7 666.5 316.6 666.4 317.5 666.5 C318.4 666.7 317 666.8 320.1 666.9 C323.2 667 333.4 666.9 336.1 666.9" fill="none" stroke="#c8e4ee" stroke-width="1.25"/>
<path d="M233.4 666.9 C238.8 666.9 259.8 666.9 265.5 666.9 C271.2 666.9 266.7 667.1 267.7 666.7 C268.8 666.4 270.5 665.8 271.8 664.8 C273.1 663.8 274.3 662.3 275.6 660.9 C276.9 659.6 278.1 658.1 279.4 656.7 C280.8 655.3 282.5 653.6 283.7 652.4 C284.9 651.2 286.1 650 286.8 649.4 C287.6 648.8 287.3 648.8 288 648.8 C288.6 648.8 290.2 648.5 290.9 649.4 C291.6 650.4 291.8 653.7 292.1 654.6 C292.5 655.4 290.4 654.4 293.1 654.5 C295.8 654.6 305.5 655.1 308.5 655.4 C311.5 655.7 310.4 655.4 311.1 656.3 C311.8 657.3 312 659.7 312.7 661.2 C313.3 662.7 314.1 664.4 314.9 665.3 C315.7 666.2 316.6 666.2 317.5 666.5 C318.4 666.8 317 666.8 320.1 666.9 C323.2 667 333.4 666.9 336.1 666.9" fill="none" stroke="#a8d8c0" stroke-width="1.25"/>
<path d="M233.4 666.9 C238.8 666.9 259.7 667 265.5 666.9 C271.3 666.8 266.8 667.2 268 666.5 C269.1 665.9 271 664.7 272.4 662.8 C273.9 660.9 275.2 657.9 276.6 655.3 C278 652.7 279.3 649.8 280.8 647 C282.3 644.3 284.2 641.1 285.5 638.7 C286.9 636.4 288.2 634.1 289 632.9 C289.8 631.8 289.5 631.7 290.2 631.7 C290.9 631.7 292.4 631.1 293.1 632.9 C293.8 634.8 294 640.8 294.4 643 C294.8 645.2 293 645.4 295.4 646.2 C297.7 647 305.9 647.3 308.5 647.8 C311.1 648.3 310.4 647.7 311.1 649.3 C311.8 650.9 312 654.9 312.7 657.3 C313.3 659.8 314.1 662.7 314.9 664.2 C315.7 665.8 316.6 666.1 317.5 666.5 C318.4 667 317 666.8 320.1 666.9 C323.2 667 333.4 666.9 336.1 666.9" fill="none" stroke="#90cce0" stroke-width="1.25"/>
<path d="M233.4 666.9 C238.8 666.9 259.7 667 265.5 666.9 C271.3 666.8 267 667.4 268.3 666.4 C269.6 665.5 271.8 663.8 273.4 661.2 C275.1 658.5 276.6 654.3 278.2 650.6 C279.8 646.9 281.3 642.9 283 639 C284.7 635.2 286.8 630.7 288.4 627.4 C289.9 624.1 291.4 620.9 292.3 619.3 C293.2 617.6 293 617.6 293.7 617.6 C294.5 617.6 295.9 616.7 296.6 619.3 C297.3 621.9 297.5 629.3 297.9 633.3 C298.3 637.4 297.1 641.5 298.9 643.5 C300.6 645.5 306.5 644.6 308.5 645.2 C310.5 645.8 310.4 645.2 311.1 647 C311.8 648.8 312 653.2 312.7 656.1 C313.3 658.9 314.1 662.1 314.9 663.9 C315.7 665.6 316.6 666 317.5 666.5 C318.4 667 317 666.8 320.1 666.9 C323.2 667 333.4 666.9 336.1 666.9" fill="none" stroke="#78c0d8" stroke-width="1.25"/>
<path d="M233.4 666.9 C238.8 666.9 259.7 667 265.5 666.9 C271.3 666.8 267 667.4 268.4 666.3 C269.7 665.2 271.9 663.2 273.6 660.1 C275.3 657 276.9 651.9 278.5 647.5 C280.1 643.2 281.7 638.4 283.4 633.8 C285.1 629.2 287.3 623.9 288.9 620 C290.5 616.1 292 612.3 292.9 610.3 C293.9 608.3 293.7 608.2 294.4 608.2 C295.1 608.2 296.6 607.2 297.3 610.3 C298 613.4 298.2 621.7 298.6 627 C298.9 632.3 297.9 639.3 299.5 642.1 C301.2 644.9 306.6 643.3 308.5 643.9 C310.4 644.6 310.4 643.9 311.1 645.8 C311.8 647.7 312 652.4 312.7 655.4 C313.3 658.4 314.1 661.8 314.9 663.7 C315.7 665.5 316.6 666 317.5 666.5 C318.4 667.1 317 666.8 320.1 666.9 C323.2 667 333.4 666.9 336.1 666.9" fill="none" stroke="#88c8c8" stroke-width="1.25"/>
<path d="M233.4 666.9 C238.8 666.9 259.6 667 265.5 666.9 C271.4 666.8 267.2 667.5 268.6 666.2 C270.1 664.9 272.4 662.6 274.2 658.9 C276.1 655.2 277.8 649.3 279.5 644.2 C281.3 639 283 633.4 284.8 628 C286.7 622.6 289.1 616.4 290.8 611.8 C292.5 607.2 294.2 602.8 295.1 600.5 C296.1 598.2 296 598 296.7 598 C297.4 598 298.9 596.8 299.6 600.5 C300.3 604.1 300.5 613.6 300.9 620.1 C301.2 626.6 300.6 635.8 301.8 639.4 C303.1 642.9 307 640.7 308.5 641.4 C310.1 642.1 310.4 641.3 311.1 643.4 C311.8 645.6 312 650.8 312.7 654.1 C313.3 657.5 314.1 661.3 314.9 663.3 C315.7 665.4 316.6 665.9 317.5 666.5 C318.4 667.1 317 666.8 320.1 666.9 C323.2 667 333.4 666.9 336.1 666.9" fill="none" stroke="#90c8b0" stroke-width="1.25"/>
<path d="M233.4 666.9 C238.8 666.9 259.6 667 265.5 666.9 C271.4 666.8 267.3 667.7 268.9 666.1 C270.5 664.5 273 661.7 275 657.3 C277 652.9 278.9 645.8 280.8 639.6 C282.7 633.3 284.6 626.6 286.6 620.1 C288.6 613.6 291.2 606.1 293.1 600.6 C294.9 595.1 296.7 589.7 297.8 586.9 C298.9 584.2 298.8 584 299.5 584 C300.3 584 301.7 582.5 302.4 586.9 C303.1 591.3 303.3 602.7 303.7 610.5 C304.1 618.3 303.9 629 304.7 633.8 C305.5 638.5 307.4 637.6 308.5 638.9 C309.6 640.1 310.4 638.8 311.1 641.1 C311.8 643.4 312 649.2 312.7 652.9 C313.3 656.5 314.1 660.7 314.9 663 C315.7 665.2 316.6 665.9 317.5 666.5 C318.4 667.2 317 666.8 320.1 666.9 C323.2 667 333.4 666.9 336.1 666.9" fill="none" stroke="#a0c890" stroke-width="1.25"/>
<path d="M233.4 666.9 C238.8 666.9 259.6 667.1 265.5 666.9 C271.4 666.7 267.4 667.8 269.1 666 C270.7 664.2 273.4 661.2 275.5 656.3 C277.6 651.5 279.5 643.6 281.5 636.8 C283.6 630 285.5 622.5 287.6 615.4 C289.7 608.3 292.4 600 294.4 594 C296.3 587.9 298.2 582 299.3 578.9 C300.5 575.9 300.4 575.7 301.1 575.7 C301.9 575.7 303.3 574.1 304 578.9 C304.7 583.8 304.9 596.3 305.3 604.9 C305.7 613.5 305.7 625.3 306.3 630.4 C306.8 635.6 307.7 634.5 308.5 635.8 C309.3 637.1 310.4 635.7 311.1 638.3 C311.8 640.9 312 647.3 312.7 651.3 C313.3 655.4 314.1 660 314.9 662.5 C315.7 665.1 316.6 665.8 317.5 666.5 C318.4 667.2 317 666.8 320.1 666.9 C323.2 667 333.4 666.9 336.1 666.9" fill="none" stroke="#a8c868" stroke-width="1.9"/>
<path d="M265.5 666.9 L265.8 666.9 L266.1 666.8 L266.5 666.7 L266.8 666.5 L267.1 666.3 L267.4 666.1 L267.7 665.8 L268.1 665.6 L268.4 665.3 L268.7 665.1 L269 664.8 L269.4 664.6 L269.7 664.5 L270 664.3 L270.3 664.3 L270.6 664.2 L271 664.2 L271.3 664.2 L271.6 664.1 L271.9 664 L272.2 663.9 L272.6 663.8 L272.9 663.7 L273.2 663.5 L273.5 663.4 L273.8 663.2 L274.2 663.1 L274.5 662.9 L274.8 662.7 L275.1 662.6 L275.5 662.4 L275.8 662.2 L276.1 662.1 L276.4 662 L276.7 661.8 L277.1 661.7 L277.4 661.7 L277.7 661.6 L278 661.6 L278.3 661.5 L278.7 661.5 L279 661.5 L279.3 661.5 L279.6 661.5 L279.9 661.4 L280.3 661.4 L280.6 661.3 L280.9 661.2 L281.2 661.2 L281.6 661.1 L281.9 661 L282.2 661 L282.5 660.9 L282.8 660.8 L283.2 660.8 L283.5 660.7 L283.8 660.7 L284.1 660.7 L284.4 660.7 L284.8 660.7 L285.1 660.6 L285.4 660.6 L285.7 660.6 L286 660.6 L286.4 660.5 L286.7 660.5 L287 660.4 L287.3 660.3 L287.6 660.3 L288 660.2 L288.3 660.1 L288.6 660.1 L288.9 660 L289.3 660 L289.6 659.9 L289.9 659.9 L290.2 659.8 L290.5 659.8 L290.9 659.8 L291.2 659.8 L291.5 659.8 L291.8 659.7 L292.1 659.7 L292.5 659.7 L292.8 659.6 L293.1 659.6 L293.4 659.5 L293.7 659.4 L294.1 659.4 L294.4 659.3 L294.7 659.2 L295 659.2 L295.4 659.1 L295.7 659.1 L296 659 L296.3 659 L296.6 658.9 L297 658.9 L297.3 658.9 L297.6 658.9 L297.9 658.9 L298.2 658.8 L298.6 658.8 L298.9 658.8 L299.2 658.7 L299.5 658.7 L299.8 658.6 L300.2 658.6 L300.5 658.5 L300.8 658.4 L301.1 658.4 L301.5 658.3 L301.8 658.2 L302.1 658.2 L302.4 658.1 L302.7 658.1 L303.1 658 L303.4 658 L303.7 658 L304 658 L304.3 658 L304.7 658.1 L305 658.3 L305.3 658.5 L305.6 658.8 L305.9 659.1 L306.3 659.5 L306.6 659.9 L306.9 660.3 L307.2 660.7 L307.6 661.1 L307.9 661.4 L308.2 661.8 L308.5 662.2 L308.8 662.5 L309.2 662.8 L309.5 663 L309.8 663.2 L310.1 663.3 L310.4 663.3 L310.8 663.4 L311.1 663.5 L311.4 663.7 L311.7 663.9 L312 664.2 L312.4 664.5 L312.7 664.8 L313 665.1 L313.3 665.4 L313.7 665.8 L314 666.1 L314.3 666.3 L314.6 666.6 L314.9 666.7 L315.3 666.9 L315.6 666.9 L315.9 666.9 L316.2 666.9 L316.5 666.9 L316.9 666.9" fill="none" stroke="#a8c868" stroke-width="1.3"/>
<path d="M265.5 666.9 L265.8 666.9 L266.1 666.8 L266.5 666.7 L266.8 666.6 L267.1 666.5 L267.4 666.3 L267.7 666.1 L268.1 665.9 L268.4 665.8 L268.7 665.6 L269 665.4 L269.4 665.3 L269.7 665.2 L270 665.1 L270.3 665 L270.6 665 L271 665 L271.3 664.9 L271.6 664.9 L271.9 664.8 L272.2 664.8 L272.6 664.7 L272.9 664.6 L273.2 664.5 L273.5 664.4 L273.8 664.3 L274.2 664.2 L274.5 664 L274.8 663.9 L275.1 663.8 L275.5 663.7 L275.8 663.6 L276.1 663.5 L276.4 663.4 L276.7 663.3 L277.1 663.2 L277.4 663.2 L277.7 663.1 L278 663.1 L278.3 663.1 L278.7 663.1 L279 663.1 L279.3 663 L279.6 663 L279.9 663 L280.3 662.9 L280.6 662.9 L280.9 662.9 L281.2 662.8 L281.6 662.8 L281.9 662.7 L282.2 662.7 L282.5 662.6 L282.8 662.6 L283.2 662.5 L283.5 662.5 L283.8 662.5 L284.1 662.5 L284.4 662.4 L284.8 662.4 L285.1 662.4 L285.4 662.4 L285.7 662.4 L286 662.4 L286.4 662.3 L286.7 662.3 L287 662.3 L287.3 662.2 L287.6 662.2 L288 662.1 L288.3 662.1 L288.6 662 L288.9 662 L289.3 661.9 L289.6 661.9 L289.9 661.9 L290.2 661.8 L290.5 661.8 L290.9 661.8 L291.2 661.8 L291.5 661.8 L291.8 661.8 L292.1 661.8 L292.5 661.7 L292.8 661.7 L293.1 661.7 L293.4 661.6 L293.7 661.6 L294.1 661.5 L294.4 661.5 L294.7 661.4 L295 661.4 L295.4 661.3 L295.7 661.3 L296 661.3 L296.3 661.2 L296.6 661.2 L297 661.2 L297.3 661.2 L297.6 661.2 L297.9 661.2 L298.2 661.1 L298.6 661.1 L298.9 661.1 L299.2 661.1 L299.5 661 L299.8 661 L300.2 660.9 L300.5 660.9 L300.8 660.8 L301.1 660.8 L301.5 660.7 L301.8 660.7 L302.1 660.7 L302.4 660.6 L302.7 660.6 L303.1 660.6 L303.4 660.5 L303.7 660.5 L304 660.5 L304.3 660.6 L304.7 660.6 L305 660.8 L305.3 660.9 L305.6 661.1 L305.9 661.4 L306.3 661.6 L306.6 661.9 L306.9 662.2 L307.2 662.4 L307.6 662.7 L307.9 663 L308.2 663.3 L308.5 663.5 L308.8 663.8 L309.2 664 L309.5 664.1 L309.8 664.2 L310.1 664.3 L310.4 664.4 L310.8 664.4 L311.1 664.5 L311.4 664.6 L311.7 664.7 L312 664.9 L312.4 665.2 L312.7 665.4 L313 665.6 L313.3 665.9 L313.7 666.1 L314 666.3 L314.3 666.5 L314.6 666.7 L314.9 666.8 L315.3 666.9 L315.6 666.9 L315.9 666.9 L316.2 666.9 L316.5 666.9 L316.9 666.9" fill="none" stroke="#90c8c0" stroke-width="1.3"/>
<text x="333.9" y="576.5" font-family="Liberation Sans" font-weight="bold" font-size="8.8" text-anchor="middle">1.2 M</text>
<text x="334.5" y="620" font-family="Liberation Sans" font-weight="bold" font-size="8.8" text-anchor="middle">0.2 M</text>
<linearGradient id="ga2" x1="0" y1="1" x2="0" y2="0"><stop offset="0" stop-color="#a0b8e0" stop-opacity="0.3"/><stop offset="1" stop-color="#a8c060"/></linearGradient><polygon points="333.1,605.3 333.1,582.6 331.2,582.6 335.5,577.2 339.8,582.6 337.9,582.6 337.9,605.3" fill="url(#ga2)"/>
<rect x="244" y="584" width="12" height="7" fill="#dcf8f4"/>
<circle cx="259" cy="587.5" r="4.3" fill="url(#gW2)"/><circle cx="253.2" cy="581.8" r="4.3" fill="url(#gW2)"/><circle cx="252.5" cy="593.5" r="4.6" fill="url(#gW2)"/>
<circle cx="252" cy="587.5" r="3.2" fill="#70c0a8"/><circle cx="246.2" cy="588.3" r="4.2" fill="url(#gB3)"/>
<text x="252.5" y="607.5" font-family="Liberation Sans" font-weight="bold" font-size="9" text-anchor="middle">EtOH</text>
<rect x="440" y="588" width="58" height="79" fill="#fdf5f9"/>
<rect x="387.1" y="563.1" width="128.4" height="110.2" fill="none" stroke="#222" stroke-width="1.2"/><line x1="386.7" y1="673.3" x2="386.7" y2="675.1" stroke="#222" stroke-width="0.9"/><text x="385.5" y="683.8" font-family="Liberation Sans" font-weight="bold" font-size="8.5" text-anchor="middle">-1.2</text><line x1="422.6" y1="673.3" x2="422.6" y2="675.1" stroke="#222" stroke-width="0.9"/><text x="421.4" y="683.8" font-family="Liberation Sans" font-weight="bold" font-size="8.5" text-anchor="middle">-0.6</text><line x1="460" y1="673.3" x2="460" y2="675.1" stroke="#222" stroke-width="0.9"/><text x="458.8" y="683.8" font-family="Liberation Sans" font-weight="bold" font-size="8.5" text-anchor="middle">0.0</text><line x1="497.4" y1="673.3" x2="497.4" y2="675.1" stroke="#222" stroke-width="0.9"/><text x="496.2" y="683.8" font-family="Liberation Sans" font-weight="bold" font-size="8.5" text-anchor="middle">0.6</text><line x1="385.3" y1="667.1" x2="387.1" y2="667.1" stroke="#222" stroke-width="0.9"/><text x="383.6" y="670.2" font-family="Liberation Sans" font-weight="bold" font-size="8.5" text-anchor="end">0</text><line x1="385.3" y1="646.3" x2="387.1" y2="646.3" stroke="#222" stroke-width="0.9"/><text x="383.6" y="649.4" font-family="Liberation Sans" font-weight="bold" font-size="8.5" text-anchor="end">1</text><line x1="385.3" y1="625.5" x2="387.1" y2="625.5" stroke="#222" stroke-width="0.9"/><text x="383.6" y="628.6" font-family="Liberation Sans" font-weight="bold" font-size="8.5" text-anchor="end">2</text><line x1="385.3" y1="604.7" x2="387.1" y2="604.7" stroke="#222" stroke-width="0.9"/><text x="383.6" y="607.8" font-family="Liberation Sans" font-weight="bold" font-size="8.5" text-anchor="end">3</text><line x1="385.3" y1="583.9" x2="387.1" y2="583.9" stroke="#222" stroke-width="0.9"/><text x="383.6" y="587" font-family="Liberation Sans" font-weight="bold" font-size="8.5" text-anchor="end">4</text><line x1="385.3" y1="563.1" x2="387.1" y2="563.1" stroke="#222" stroke-width="0.9"/><text x="383.6" y="566.2" font-family="Liberation Sans" font-weight="bold" font-size="8.5" text-anchor="end">5</text><text x="354.2" y="572.4" font-family="Liberation Sans" font-size="17.2">(d)</text>
<text transform="translate(373,619) rotate(-90)" font-family="Liberation Sans" font-weight="bold" font-size="8.8" text-anchor="middle" textLength="51" lengthAdjust="spacingAndGlyphs"><tspan font-style="italic">j</tspan> (mA mm<tspan font-size="5.5" dy="-3">-2</tspan><tspan dy="3">)</tspan></text>
<text x="445" y="689.5" font-family="Liberation Sans" font-weight="bold" font-size="9" text-anchor="middle"><tspan font-style="italic">E</tspan> (V)</text>
<path d="M397.7 667.1 L421.4 667.1 C422.4 667 425.5 667 427.6 666.6 C429.7 666.2 431.3 666.2 433.8 664.5 C436.3 662.9 440.5 660.5 442.6 656.8 C444.6 653 444.9 644.7 446.3 642 C447.6 639.2 446.6 638 450.7 640.1 C454.7 642.1 466.7 652 470.6 654.2 C474.5 656.4 473.3 653.6 474.2 653.3 C475 653 475.1 652.6 475.6 652.3 C476.1 652 476.7 651.6 477.1 651.6 C477.5 651.5 477.8 651.3 478 652 C478.2 652.6 478.3 653.9 478.4 655.4 C478.5 656.9 478.4 659 478.5 660.9 C478.6 662.7 478.5 665.6 478.8 666.7 C479 667.7 477.1 667 480.2 667.1 C483.4 667.2 494.5 667.1 497.4 667.1" fill="none" stroke="#ddc8c4" stroke-width="1.1" stroke-linejoin="round"/>
<path d="M397.7 667.1 L421.4 667.1 C422.4 667 425.5 667 427.6 666.5 C429.7 665.9 431.3 665.9 433.8 663.9 C436.3 661.8 439.5 657.8 442.6 654.1 C445.6 650.4 449.5 645.1 451.9 641.8 C454.3 638.4 455.4 635.7 457 634 C458.6 632.3 459.3 630.2 461.4 631.5 C463.4 632.8 467 640.3 469.2 641.7 C471.5 643.2 473.4 640.7 474.9 640.2 C476.4 639.6 477.5 639 478.4 638.4 C479.2 637.9 479.5 637.2 479.9 637.1 C480.3 637 480.6 636.6 480.8 637.8 C481 639.1 481.1 640.6 481.2 644.5 C481.3 648.3 481.2 657.2 481.3 660.9 C481.4 664.6 481.3 665.6 481.6 666.7 C481.8 667.7 480.4 667 483.1 667.1 C485.7 667.2 495 667.1 497.4 667.1" fill="none" stroke="#c8a8a0" stroke-width="1.1" stroke-linejoin="round"/>
<path d="M397.7 667.1 L421.4 667.1 C422.4 667 425.5 667 427.6 666.4 C429.7 665.8 431.3 665.8 433.8 663.5 C436.3 661.3 439.5 656.8 442.6 652.8 C445.6 648.7 449.1 643.8 451.9 639.2 C454.7 634.6 457.2 627.8 459.1 624.9 C461.1 622 461.7 621.3 463.5 621.8 C465.3 622.2 467.8 628 469.9 627.6 C472 627.2 474.5 622.1 476.2 619.4 C478 616.7 479.4 613 480.4 611.2 C481.3 609.4 481.5 608.7 481.9 608.5 C482.3 608.3 482.6 607.6 482.8 610 C483 612.4 483.1 614.5 483.2 623 C483.3 631.4 483.2 653.6 483.3 660.9 C483.4 668.1 483.3 665.6 483.5 666.7 C483.8 667.7 482.7 667 485 667.1 C487.3 667.2 495.3 667.1 497.4 667.1" fill="none" stroke="#a88098" stroke-width="1.1" stroke-linejoin="round"/>
<path d="M397.7 667.1 L421.4 667.1 C422.4 667 425.5 667 427.6 666.3 C429.7 665.7 431.3 665.7 433.8 663.3 C436.3 660.8 439.5 656.1 442.6 651.8 C445.6 647.5 448.9 642.6 451.9 637.2 C454.9 631.9 458.4 623.2 460.6 619.7 C462.7 616.2 463.2 616 464.9 616.1 C466.6 616.3 468.5 621.3 470.7 620.5 C472.8 619.7 475.7 614.3 477.7 611.2 C479.6 608.1 481.4 604 482.5 601.9 C483.6 599.8 483.6 599 484 598.8 C484.5 598.6 484.7 597.7 484.9 600.5 C485.1 603.3 485.2 605.6 485.3 615.6 C485.4 625.7 485.4 652.3 485.4 660.9 C485.5 669.4 485.4 665.6 485.7 666.7 C486 667.7 485.2 667 487.2 667.1 C489.1 667.2 495.7 667.1 497.4 667.1" fill="none" stroke="#9060a4" stroke-width="1.1" stroke-linejoin="round"/>
<path d="M397.7 667.1 L421.4 667.1 C422.4 667 425.5 667 427.6 666.3 C429.7 665.6 431.3 665.6 433.8 663.1 C436.3 660.6 439.5 655.7 442.6 651.1 C445.6 646.6 448.7 642.1 451.9 635.9 C455.1 629.8 459.5 618.7 461.9 614.5 C464.3 610.2 464.7 610.5 466.3 610.5 C467.8 610.6 469.1 616 471.3 614.9 C473.4 613.8 476.9 607.6 479.1 603.9 C481.3 600.3 483.5 595.4 484.7 593 C485.9 590.6 485.9 589.8 486.3 589.5 C486.7 589.2 487 588.3 487.2 591.4 C487.4 594.6 487.5 597 487.5 608.6 C487.6 620.2 487.6 651.2 487.7 660.9 C487.7 670.5 487.6 665.6 487.9 666.7 C488.2 667.7 487.8 667 489.4 667.1 C491 667.2 496.1 667.1 497.4 667.1" fill="none" stroke="#6a3aa8" stroke-width="1.1" stroke-linejoin="round"/>
<path d="M397.7 667.1 L421.4 667.1 C422.4 667 425.5 667 427.6 666.3 C429.7 665.6 431.3 665.6 433.8 662.9 C436.3 660.3 439.5 655.2 442.6 650.5 C445.6 645.7 448.3 641.3 451.9 634.7 C455.5 628 461.4 615.2 464.2 610.4 C466.9 605.7 467.1 606.3 468.5 606.2 C470 606 470.7 611 472.7 609.7 C474.8 608.4 478.5 602.2 480.8 598.4 C483.2 594.6 485.5 589.6 486.8 587.1 C488 584.6 487.9 583.6 488.3 583.3 C488.8 583 489 581.9 489.2 585.4 C489.4 588.8 489.5 591.3 489.6 603.9 C489.7 616.5 489.7 650.4 489.7 660.9 C489.8 671.3 489.7 665.6 490 666.7 C490.3 667.7 490.2 667 491.5 667.1 C492.7 667.2 496.4 667.1 497.4 667.1" fill="none" stroke="#3c1a80" stroke-width="1.7" stroke-linejoin="round"/>
<path d="M425.7 667.1 L426 667.1 L426.2 667.1 L426.5 667 L426.7 666.9 L427 666.8 L427.2 666.7 L427.5 666.6 L427.7 666.5 L428 666.4 L428.2 666.3 L428.5 666.1 L428.7 666 L429 665.9 L429.2 665.8 L429.5 665.7 L429.7 665.6 L430 665.5 L430.2 665.5 L430.5 665.4 L430.7 665.4 L431 665.4 L431.2 665.3 L431.5 665.2 L431.7 665 L432 664.8 L432.2 664.6 L432.5 664.3 L432.7 664.1 L433 663.9 L433.2 663.8 L433.5 663.6 L433.7 663.6 L434 663.6 L434.2 663.6 L434.5 663.7 L434.7 663.8 L435 664 L435.2 664.1 L435.5 664.3 L435.7 664.5 L436 664.7 L436.2 664.9 L436.5 665 L436.7 665.2 L436.9 665.3 L437.2 665.4 L437.4 665.4 L437.7 665.4 L437.9 665.4 L438.2 665.4 L438.4 665.4 L438.7 665.5 L438.9 665.5 L439.2 665.5 L439.4 665.5 L439.7 665.5 L439.9 665.5 L440.2 665.5 L440.4 665.5 L440.7 665.5 L440.9 665.5 L441.2 665.6 L441.4 665.6 L441.7 665.6 L441.9 665.6 L442.2 665.6 L442.4 665.6 L442.7 665.7 L442.9 665.7 L443.2 665.7 L443.4 665.7 L443.7 665.7 L443.9 665.7 L444.2 665.7 L444.4 665.8 L444.7 665.8 L444.9 665.8 L445.2 665.8 L445.4 665.8 L445.7 665.8 L445.9 665.8 L446.2 665.8 L446.4 665.8 L446.7 665.8 L446.9 665.8 L447.2 665.9 L447.4 665.9 L447.7 665.9 L447.9 665.8 L448.2 665.8 L448.4 665.8 L448.7 665.8 L448.9 665.8 L449.2 665.8 L449.4 665.7 L449.7 665.7 L449.9 665.7 L450.2 665.6 L450.4 665.6 L450.7 665.6 L450.9 665.5 L451.2 665.5 L451.4 665.4 L451.7 665.4 L451.9 665.3 L452.2 665.3 L452.4 665.2 L452.6 665.2 L452.9 665.1 L453.1 665.1 L453.4 665 L453.6 664.9 L453.9 664.9 L454.1 664.8 L454.4 664.8 L454.6 664.7 L454.9 664.7 L455.1 664.6 L455.4 664.6 L455.6 664.5 L455.9 664.5 L456.1 664.4 L456.4 664.4 L456.6 664.3 L456.9 664.3 L457.1 664.2 L457.4 664.2 L457.6 664.2 L457.9 664.1 L458.1 664.1 L458.4 664.1 L458.6 664 L458.9 664 L459.1 664 L459.4 664 L459.6 664 L459.9 664 L460.1 663.9 L460.4 663.2 L460.6 662.1 L460.9 660.7 L461.1 659.3 L461.4 658 L461.6 657.1 L461.9 656.7 L462.1 655.5 L462.4 653 L462.6 650.7 L462.9 650.2 L463.1 653.6 L463.4 658.4 L463.6 660.9 L463.9 662.4 L464.1 665.2 L464.4 666.7 L464.6 666.7 L464.9 666.7 L465.1 666.7 L465.4 666.7 L465.6 666.7 L465.9 666.8 L466.1 666.8 L466.4 666.8 L466.6 666.9 L466.9 666.9 L467.1 666.9 L467.4 667 L467.6 667 L467.8 667 L468.1 667 L468.3 667.1 L468.6 667.1 L468.8 667.1 L469.1 667.1 L469.3 667.1" fill="none" stroke="#3c1a80" stroke-width="1.5"/>
<text x="501.6" y="574.7" font-family="Liberation Sans" font-weight="bold" font-size="8.8" text-anchor="middle">1.2 M</text>
<text x="501.6" y="620.2" font-family="Liberation Sans" font-weight="bold" font-size="8.8" text-anchor="middle">0.2 M</text>
<linearGradient id="ga3" x1="0" y1="1" x2="0" y2="0"><stop offset="0" stop-color="#e0c0d0" stop-opacity="0.3"/><stop offset="1" stop-color="#3c1a80"/></linearGradient><polygon points="500.1,605 500.1,582.8 497.7,582.8 502.7,577.6 507.7,582.8 505.3,582.8 505.3,605" fill="url(#ga3)"/>
<rect x="416" y="576" width="16" height="8" fill="#d8f8fa"/>
<circle cx="408" cy="588" r="4.8" fill="url(#gW2)"/><circle cx="420" cy="596" r="4.3" fill="url(#gW2)"/><circle cx="410.5" cy="580" r="4.8" fill="url(#gW2)"/><circle cx="418" cy="589" r="5" fill="url(#gW2)"/>
<path d="M416 582 A5 4.5 0 0 1 426 582 Z" fill="url(#gB3)"/>
<text x="421.7" y="610" font-family="Liberation Sans" font-weight="bold" font-size="8.7" text-anchor="middle">2-Propanol</text>
</svg></body></html>
